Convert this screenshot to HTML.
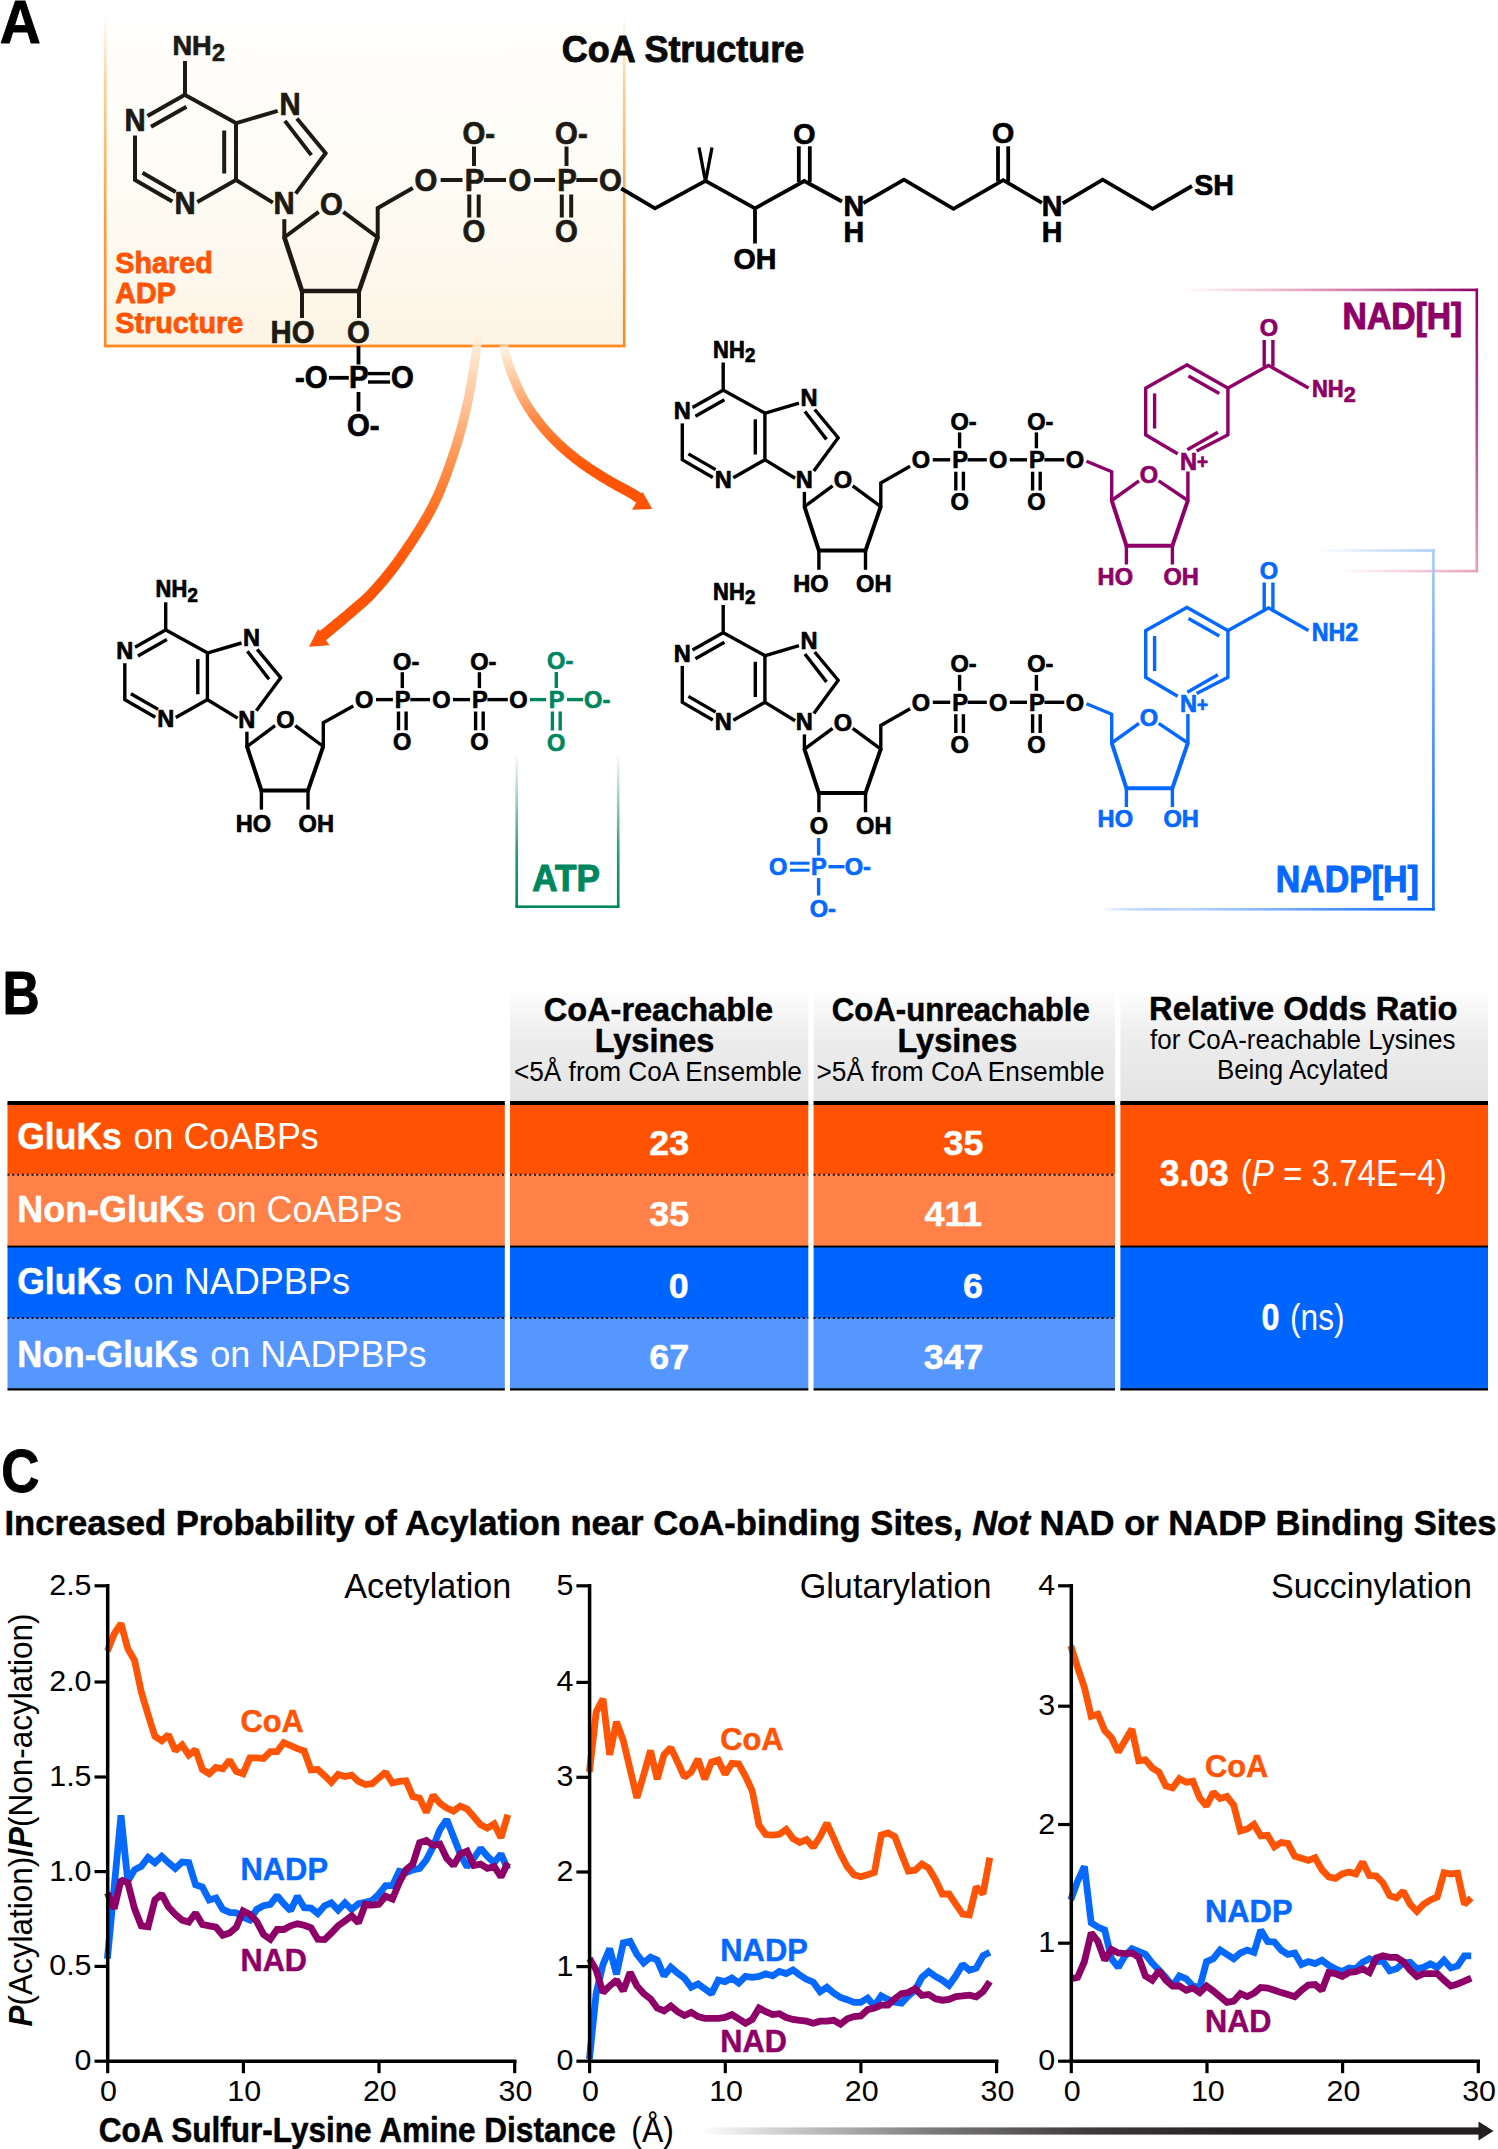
<!DOCTYPE html>
<html><head><meta charset="utf-8"><title>Figure</title>
<style>
html,body{margin:0;padding:0;background:#fff;}
body{width:1498px;height:2149px;overflow:hidden;}
svg{display:block;font-family:"Liberation Sans",sans-serif;}
</style></head><body>
<svg width="1498" height="2149" viewBox="0 0 1498 2149">
<defs>
<linearGradient id="gBoxFill" x1="0" y1="0" x2="0" y2="1">
<stop offset="0" stop-color="#fffefb" stop-opacity="0"/>
<stop offset="0.1" stop-color="#fffefb" stop-opacity="1"/>
<stop offset="0.45" stop-color="#fefcf6" stop-opacity="1"/>
<stop offset="0.8" stop-color="#fdf8ec" stop-opacity="1"/>
<stop offset="1" stop-color="#fcf4e4" stop-opacity="1"/></linearGradient>
<linearGradient id="gBoxEdge" x1="0" y1="0" x2="0" y2="1">
<stop offset="0" stop-color="#ffc070" stop-opacity="0"/>
<stop offset="0.22" stop-color="#ffb860" stop-opacity="0.7"/>
<stop offset="0.6" stop-color="#ffa040" stop-opacity="1"/>
<stop offset="1" stop-color="#ff8a22" stop-opacity="1"/></linearGradient>
<linearGradient id="gAtp" x1="0" y1="0" x2="0" y2="1">
<stop offset="0" stop-color="#00865E" stop-opacity="0"/>
<stop offset="0.65" stop-color="#00865E" stop-opacity="0.85"/>
<stop offset="1" stop-color="#00865E" stop-opacity="1"/></linearGradient>
<linearGradient id="gNadTop" x1="0" y1="0" x2="1" y2="0">
<stop offset="0" stop-color="#e79ab8" stop-opacity="0"/>
<stop offset="0.35" stop-color="#e48fb2" stop-opacity="0.7"/>
<stop offset="0.75" stop-color="#b84a8f" stop-opacity="1"/>
<stop offset="1" stop-color="#8E0067" stop-opacity="1"/></linearGradient>
<linearGradient id="gNadRight" x1="0" y1="0" x2="0" y2="1">
<stop offset="0" stop-color="#8E0067"/>
<stop offset="0.45" stop-color="#b5408a"/>
<stop offset="1" stop-color="#e9a0bc"/></linearGradient>
<linearGradient id="gNadBot" x1="0" y1="0" x2="1" y2="0">
<stop offset="0" stop-color="#e9a0bc" stop-opacity="0"/>
<stop offset="1" stop-color="#e9a0bc" stop-opacity="1"/></linearGradient>
<linearGradient id="gNpTop" x1="0" y1="0" x2="1" y2="0">
<stop offset="0" stop-color="#a9cdff" stop-opacity="0"/>
<stop offset="1" stop-color="#a9cdff" stop-opacity="1"/></linearGradient>
<linearGradient id="gNpRight" x1="0" y1="0" x2="0" y2="1">
<stop offset="0" stop-color="#a9cdff"/>
<stop offset="0.5" stop-color="#4d92ff"/>
<stop offset="1" stop-color="#0568FF"/></linearGradient>
<linearGradient id="gNpBot" x1="0" y1="0" x2="1" y2="0">
<stop offset="0" stop-color="#0568FF" stop-opacity="0"/>
<stop offset="0.25" stop-color="#a9cdff" stop-opacity="0.8"/>
<stop offset="0.7" stop-color="#4d92ff" stop-opacity="1"/>
<stop offset="1" stop-color="#0568FF" stop-opacity="1"/></linearGradient>
<linearGradient id="gArrL" gradientUnits="userSpaceOnUse" x1="0" y1="334" x2="0" y2="570">
<stop offset="0" stop-color="#fdf0dc" stop-opacity="0.6"/>
<stop offset="0.08" stop-color="#fee6cf"/>
<stop offset="0.30" stop-color="#ffc399"/>
<stop offset="0.52" stop-color="#ff9654"/>
<stop offset="0.75" stop-color="#ff6f22"/>
<stop offset="1" stop-color="#FF5405"/></linearGradient>
<linearGradient id="gArrR" gradientUnits="userSpaceOnUse" x1="0" y1="344" x2="0" y2="470">
<stop offset="0" stop-color="#fdf0dc" stop-opacity="0.6"/>
<stop offset="0.1" stop-color="#fee6cf"/>
<stop offset="0.35" stop-color="#ffba8a"/>
<stop offset="0.6" stop-color="#ff8843"/>
<stop offset="0.85" stop-color="#ff6414"/>
<stop offset="1" stop-color="#FF5405"/></linearGradient>
<linearGradient id="gHead" x1="0" y1="0" x2="0" y2="1">
<stop offset="0" stop-color="#e6e6e6" stop-opacity="0"/>
<stop offset="0.5" stop-color="#e9e9e9" stop-opacity="0.9"/>
<stop offset="1" stop-color="#e4e4e4" stop-opacity="1"/></linearGradient>
<linearGradient id="gBar" x1="0" y1="0" x2="1" y2="0">
<stop offset="0" stop-color="#231f20" stop-opacity="0"/>
<stop offset="0.12" stop-color="#231f20" stop-opacity="0.25"/>
<stop offset="0.3" stop-color="#231f20" stop-opacity="0.6"/>
<stop offset="0.5" stop-color="#231f20" stop-opacity="0.88"/>
<stop offset="0.7" stop-color="#231f20" stop-opacity="1"/>
<stop offset="1" stop-color="#231f20" stop-opacity="1"/></linearGradient>
</defs>
<rect x="0" y="0" width="1498" height="2149" fill="#fff"/>
<text x="-0.2" y="42.6" font-size="61.1" font-weight="bold" fill="#000" text-anchor="start" textLength="41" lengthAdjust="spacingAndGlyphs" stroke="#000" stroke-width="0.9" stroke-linejoin="round">A</text>
<rect x="105.2" y="14" width="519" height="332" fill="url(#gBoxFill)"/>
<rect x="103.9" y="14" width="2.6" height="332" fill="url(#gBoxEdge)"/>
<rect x="622.9" y="14" width="2.6" height="332" fill="url(#gBoxEdge)"/>
<rect x="103.9" y="344.6" width="521.6" height="2.8" fill="#ff8a22"/>
<text x="115.2" y="272.8" font-size="29.5" font-weight="bold" fill="#FF5405" text-anchor="start" textLength="97.6" lengthAdjust="spacingAndGlyphs" stroke="#FF5405" stroke-width="0.8" stroke-linejoin="round">Shared</text>
<text x="115.2" y="303.2" font-size="29.5" font-weight="bold" fill="#FF5405" text-anchor="start" textLength="60.6" lengthAdjust="spacingAndGlyphs" stroke="#FF5405" stroke-width="0.8" stroke-linejoin="round">ADP</text>
<text x="115.2" y="332.6" font-size="29.5" font-weight="bold" fill="#FF5405" text-anchor="start" textLength="128.1" lengthAdjust="spacingAndGlyphs" stroke="#FF5405" stroke-width="0.8" stroke-linejoin="round">Structure</text>
<text x="561.8" y="62" font-size="37.3" font-weight="bold" fill="#0a0a0a" text-anchor="start" textLength="242.5" lengthAdjust="spacingAndGlyphs" stroke="#0a0a0a" stroke-width="0.9" stroke-linejoin="round">CoA Structure</text>
<line x1="185" y1="95.5" x2="185" y2="61" stroke="#1d1a14" stroke-width="4" stroke-linecap="butt"/>
<line x1="185.8" y1="94.3" x2="147.5" y2="115.9" stroke="#1d1a14" stroke-width="4" stroke-linecap="butt"/>
<line x1="186.5" y1="106.7" x2="151" y2="126.7" stroke="#1d1a14" stroke-width="4" stroke-linecap="butt"/>
<line x1="135" y1="135.5" x2="135" y2="181" stroke="#1d1a14" stroke-width="4" stroke-linecap="butt"/>
<line x1="134.2" y1="179.5" x2="172.3" y2="201.6" stroke="#1d1a14" stroke-width="4" stroke-linecap="butt"/>
<line x1="142.5" y1="172.8" x2="175.7" y2="192" stroke="#1d1a14" stroke-width="4" stroke-linecap="butt"/>
<line x1="197.3" y1="201.9" x2="236.8" y2="179.5" stroke="#1d1a14" stroke-width="4" stroke-linecap="butt"/>
<line x1="236" y1="181" x2="236" y2="122" stroke="#1d1a14" stroke-width="4" stroke-linecap="butt"/>
<line x1="224.2" y1="173.5" x2="224.2" y2="130.5" stroke="#1d1a14" stroke-width="4" stroke-linecap="butt"/>
<line x1="236.8" y1="123.4" x2="184.2" y2="94.4" stroke="#1d1a14" stroke-width="4" stroke-linecap="butt"/>
<line x1="235.5" y1="123.3" x2="277.7" y2="110.8" stroke="#1d1a14" stroke-width="4" stroke-linecap="butt"/>
<line x1="296.9" y1="118.5" x2="326.3" y2="154" stroke="#1d1a14" stroke-width="4" stroke-linecap="butt"/>
<line x1="284.9" y1="120.9" x2="311.3" y2="155.1" stroke="#1d1a14" stroke-width="4" stroke-linecap="butt"/>
<line x1="326.3" y1="152.3" x2="295.7" y2="193.6" stroke="#1d1a14" stroke-width="4" stroke-linecap="butt"/>
<line x1="235.2" y1="179.5" x2="272.9" y2="202.6" stroke="#1d1a14" stroke-width="4" stroke-linecap="butt"/>
<line x1="284.3" y1="219.2" x2="284.3" y2="238.5" stroke="#1d1a14" stroke-width="4" stroke-linecap="butt"/>
<line x1="283.5" y1="238" x2="318.7" y2="211.8" stroke="#1d1a14" stroke-width="4" stroke-linecap="butt"/>
<line x1="343.3" y1="211.8" x2="378.5" y2="238" stroke="#1d1a14" stroke-width="4" stroke-linecap="butt"/>
<line x1="377.7" y1="239" x2="377.7" y2="207" stroke="#1d1a14" stroke-width="4" stroke-linecap="butt"/>
<line x1="377" y1="208.6" x2="412.8" y2="188" stroke="#1d1a14" stroke-width="4" stroke-linecap="butt"/>
<polyline points="284.3,237 302,291 359,291 377.7,237" fill="none" stroke="#1d1a14" stroke-width="4.7" stroke-linejoin="miter" stroke-linecap="butt"/>
<line x1="474" y1="146.5" x2="474" y2="166" stroke="#1d1a14" stroke-width="4" stroke-linecap="butt"/>
<line x1="469.3" y1="194.5" x2="469.3" y2="217.5" stroke="#1d1a14" stroke-width="4" stroke-linecap="butt"/>
<line x1="478.7" y1="194.5" x2="478.7" y2="217.5" stroke="#1d1a14" stroke-width="4" stroke-linecap="butt"/>
<line x1="566.5" y1="146.5" x2="566.5" y2="166" stroke="#1d1a14" stroke-width="4" stroke-linecap="butt"/>
<line x1="561.8" y1="194.5" x2="561.8" y2="217.5" stroke="#1d1a14" stroke-width="4" stroke-linecap="butt"/>
<line x1="571.2" y1="194.5" x2="571.2" y2="217.5" stroke="#1d1a14" stroke-width="4" stroke-linecap="butt"/>
<line x1="440.6" y1="180" x2="462.5" y2="180" stroke="#1d1a14" stroke-width="4" stroke-linecap="butt"/>
<line x1="483.8" y1="180" x2="506" y2="180" stroke="#1d1a14" stroke-width="4" stroke-linecap="butt"/>
<line x1="534" y1="180" x2="555" y2="180" stroke="#1d1a14" stroke-width="4" stroke-linecap="butt"/>
<line x1="576.3" y1="180" x2="597.5" y2="180" stroke="#1d1a14" stroke-width="4" stroke-linecap="butt"/>
<text x="172.4" y="55" font-size="27.2" font-weight="bold" fill="#1d1a14" text-anchor="start" transform="matrix(1 0 0 1.05 0 -2.75)" stroke="#1d1a14" stroke-width="0.7" stroke-linejoin="round">NH<tspan font-size="23.2" dy="5.3" dx="0.3">2</tspan></text>
<text x="135" y="130.6" font-size="29.3" font-weight="bold" fill="#1d1a14" text-anchor="middle" transform="matrix(1 0 0 1.05 0 -6.53)" stroke="#1d1a14" stroke-width="0.7" stroke-linejoin="round">N</text>
<text x="185" y="214.3" font-size="29.3" font-weight="bold" fill="#1d1a14" text-anchor="middle" transform="matrix(1 0 0 1.05 0 -10.715)" stroke="#1d1a14" stroke-width="0.7" stroke-linejoin="round">N</text>
<text x="290" y="114.6" font-size="29.3" font-weight="bold" fill="#1d1a14" text-anchor="middle" transform="matrix(1 0 0 1.05 0 -5.73)" stroke="#1d1a14" stroke-width="0.7" stroke-linejoin="round">N</text>
<text x="284" y="214.4" font-size="29.3" font-weight="bold" fill="#1d1a14" text-anchor="middle" transform="matrix(1 0 0 1.05 0 -10.72)" stroke="#1d1a14" stroke-width="0.7" stroke-linejoin="round">N</text>
<text x="331.5" y="214.8" font-size="29.3" font-weight="bold" fill="#1d1a14" text-anchor="middle" transform="matrix(1 0 0 1.05 0 -10.74)" stroke="#1d1a14" stroke-width="0.7" stroke-linejoin="round">O</text>
<text x="426" y="190.6" font-size="29.3" font-weight="bold" fill="#1d1a14" text-anchor="middle" transform="matrix(1 0 0 1.05 0 -9.53)" stroke="#1d1a14" stroke-width="0.7" stroke-linejoin="round">O</text>
<text x="474.5" y="190.6" font-size="29.3" font-weight="bold" fill="#1d1a14" text-anchor="middle" transform="matrix(1 0 0 1.05 0 -9.53)" stroke="#1d1a14" stroke-width="0.7" stroke-linejoin="round">P</text>
<text x="520" y="190.6" font-size="29.3" font-weight="bold" fill="#1d1a14" text-anchor="middle" transform="matrix(1 0 0 1.05 0 -9.53)" stroke="#1d1a14" stroke-width="0.7" stroke-linejoin="round">O</text>
<text x="567" y="190.6" font-size="29.3" font-weight="bold" fill="#1d1a14" text-anchor="middle" transform="matrix(1 0 0 1.05 0 -9.53)" stroke="#1d1a14" stroke-width="0.7" stroke-linejoin="round">P</text>
<text x="610.5" y="190.6" font-size="29.3" font-weight="bold" fill="#1d1a14" text-anchor="middle" transform="matrix(1 0 0 1.05 0 -9.53)" stroke="#1d1a14" stroke-width="0.7" stroke-linejoin="round">O</text>
<text x="462.6" y="143.6" font-size="29.3" font-weight="bold" fill="#1d1a14" text-anchor="start" transform="matrix(1 0 0 1.05 0 -7.18)" stroke="#1d1a14" stroke-width="0.7" stroke-linejoin="round">O-</text>
<text x="474" y="241.6" font-size="29.3" font-weight="bold" fill="#1d1a14" text-anchor="middle" transform="matrix(1 0 0 1.05 0 -12.08)" stroke="#1d1a14" stroke-width="0.7" stroke-linejoin="round">O</text>
<text x="555.1" y="143.6" font-size="29.3" font-weight="bold" fill="#1d1a14" text-anchor="start" transform="matrix(1 0 0 1.05 0 -7.18)" stroke="#1d1a14" stroke-width="0.7" stroke-linejoin="round">O-</text>
<text x="566.5" y="241.6" font-size="29.3" font-weight="bold" fill="#1d1a14" text-anchor="middle" transform="matrix(1 0 0 1.05 0 -12.08)" stroke="#1d1a14" stroke-width="0.7" stroke-linejoin="round">O</text>
<line x1="302" y1="291" x2="302" y2="318" stroke="#1d1a14" stroke-width="4" stroke-linecap="butt"/>
<line x1="359" y1="291" x2="359" y2="318" stroke="#1d1a14" stroke-width="4" stroke-linecap="butt"/>
<text x="314.5" y="342.6" font-size="29.3" font-weight="bold" fill="#1d1a14" text-anchor="end" transform="matrix(1 0 0 1.05 0 -17.13)" stroke="#1d1a14" stroke-width="0.7" stroke-linejoin="round">HO</text>
<text x="358.5" y="342.6" font-size="29.3" font-weight="bold" fill="#1d1a14" text-anchor="middle" transform="matrix(1 0 0 1.05 0 -17.13)" stroke="#1d1a14" stroke-width="0.7" stroke-linejoin="round">O</text>
<line x1="358.5" y1="346" x2="358.5" y2="364.5" stroke="#000" stroke-width="3.8" stroke-linecap="butt"/>
<line x1="358.5" y1="392" x2="358.5" y2="411.5" stroke="#000" stroke-width="3.8" stroke-linecap="butt"/>
<line x1="329" y1="377.8" x2="348.8" y2="377.8" stroke="#000" stroke-width="3.8" stroke-linecap="butt"/>
<line x1="368" y1="373.6" x2="390" y2="373.6" stroke="#000" stroke-width="3.4" stroke-linecap="butt"/>
<line x1="368" y1="382" x2="390" y2="382" stroke="#000" stroke-width="3.4" stroke-linecap="butt"/>
<text x="327.6" y="388.3" font-size="29.3" font-weight="bold" fill="#000" text-anchor="end" transform="matrix(1 0 0 1.05 0 -19.415)" stroke="#000" stroke-width="0.7" stroke-linejoin="round">-O</text>
<text x="358.7" y="388.3" font-size="29.3" font-weight="bold" fill="#000" text-anchor="middle" transform="matrix(1 0 0 1.05 0 -19.415)" stroke="#000" stroke-width="0.7" stroke-linejoin="round">P</text>
<text x="402.3" y="388.3" font-size="29.3" font-weight="bold" fill="#000" text-anchor="middle" transform="matrix(1 0 0 1.05 0 -19.415)" stroke="#000" stroke-width="0.7" stroke-linejoin="round">O</text>
<text x="347.1" y="436.2" font-size="29.3" font-weight="bold" fill="#000" text-anchor="start" transform="matrix(1 0 0 1.05 0 -21.81)" stroke="#000" stroke-width="0.7" stroke-linejoin="round">O-</text>
<polyline points="621.2,188.5 655,208.3 705.5,180.8 755,208.3 804.3,181 842,201.5" fill="none" stroke="#000" stroke-width="3.8" stroke-linejoin="miter" stroke-linecap="butt"/>
<line x1="705.5" y1="181.5" x2="699" y2="147.5" stroke="#000" stroke-width="3.3" stroke-linecap="butt"/>
<line x1="705.5" y1="181.5" x2="712" y2="147.5" stroke="#000" stroke-width="3.3" stroke-linecap="butt"/>
<line x1="755" y1="207" x2="755" y2="243.5" stroke="#000" stroke-width="3.8" stroke-linecap="butt"/>
<line x1="798.8" y1="146.3" x2="798.8" y2="182" stroke="#000" stroke-width="3.8" stroke-linecap="butt"/>
<line x1="809.8" y1="146.3" x2="809.8" y2="182" stroke="#000" stroke-width="3.8" stroke-linecap="butt"/>
<polyline points="863.3,203.2 904,179.7 953.5,208.8 1003.2,180.2 1042,202.8" fill="none" stroke="#000" stroke-width="3.8" stroke-linejoin="miter" stroke-linecap="butt"/>
<line x1="998" y1="146.3" x2="998" y2="181.5" stroke="#000" stroke-width="3.8" stroke-linecap="butt"/>
<line x1="1008.2" y1="146.3" x2="1008.2" y2="181.5" stroke="#000" stroke-width="3.8" stroke-linecap="butt"/>
<polyline points="1062.7,203.4 1102.7,179.7 1152.6,208.8 1192,186" fill="none" stroke="#000" stroke-width="3.8" stroke-linejoin="miter" stroke-linecap="butt"/>
<text x="804.3" y="143.7" font-size="28.6" font-weight="bold" fill="#000" text-anchor="middle" transform="matrix(1 0 0 1.05 0 -7.183)" stroke="#000" stroke-width="0.7" stroke-linejoin="round">O</text>
<text x="1003.2" y="143.4" font-size="28.6" font-weight="bold" fill="#000" text-anchor="middle" transform="matrix(1 0 0 1.05 0 -7.168)" stroke="#000" stroke-width="0.7" stroke-linejoin="round">O</text>
<text x="755" y="269.1" font-size="28.6" font-weight="bold" fill="#000" text-anchor="middle" transform="matrix(1 0 0 1.05 0 -13.453)" stroke="#000" stroke-width="0.7" stroke-linejoin="round">OH</text>
<text x="853.8" y="216.2" font-size="28.6" font-weight="bold" fill="#000" text-anchor="middle" transform="matrix(1 0 0 1.05 0 -10.808)" stroke="#000" stroke-width="0.7" stroke-linejoin="round">N</text>
<text x="853.8" y="241.6" font-size="28.6" font-weight="bold" fill="#000" text-anchor="middle" transform="matrix(1 0 0 1.05 0 -12.078)" stroke="#000" stroke-width="0.7" stroke-linejoin="round">H</text>
<text x="1052.2" y="216.2" font-size="28.6" font-weight="bold" fill="#000" text-anchor="middle" transform="matrix(1 0 0 1.05 0 -10.808)" stroke="#000" stroke-width="0.7" stroke-linejoin="round">N</text>
<text x="1052.2" y="241.6" font-size="28.6" font-weight="bold" fill="#000" text-anchor="middle" transform="matrix(1 0 0 1.05 0 -12.078)" stroke="#000" stroke-width="0.7" stroke-linejoin="round">H</text>
<text x="1194.3" y="194.9" font-size="28.6" font-weight="bold" fill="#000" text-anchor="start" transform="matrix(1 0 0 1.05 0 -9.743)" stroke="#000" stroke-width="0.7" stroke-linejoin="round">SH</text>
<line x1="723.2" y1="390.7" x2="723.2" y2="362.5" stroke="#000" stroke-width="3.4" stroke-linecap="butt"/>
<line x1="723.9" y1="389.7" x2="692.5" y2="407.4" stroke="#000" stroke-width="3.4" stroke-linecap="butt"/>
<line x1="724.4" y1="399.8" x2="695.4" y2="416.2" stroke="#000" stroke-width="3.4" stroke-linecap="butt"/>
<line x1="682.3" y1="423.4" x2="682.3" y2="460.6" stroke="#000" stroke-width="3.4" stroke-linecap="butt"/>
<line x1="681.6" y1="459.4" x2="712.8" y2="477.5" stroke="#000" stroke-width="3.4" stroke-linecap="butt"/>
<line x1="688.4" y1="453.9" x2="715.6" y2="469.6" stroke="#000" stroke-width="3.4" stroke-linecap="butt"/>
<line x1="733.3" y1="477.7" x2="765.6" y2="459.4" stroke="#000" stroke-width="3.4" stroke-linecap="butt"/>
<line x1="764.9" y1="460.6" x2="764.9" y2="412.4" stroke="#000" stroke-width="3.4" stroke-linecap="butt"/>
<line x1="755.3" y1="454.5" x2="755.3" y2="419.3" stroke="#000" stroke-width="3.4" stroke-linecap="butt"/>
<line x1="765.6" y1="413.5" x2="722.5" y2="389.8" stroke="#000" stroke-width="3.4" stroke-linecap="butt"/>
<line x1="764.5" y1="413.4" x2="799" y2="403.2" stroke="#000" stroke-width="3.4" stroke-linecap="butt"/>
<line x1="814.7" y1="409.5" x2="838.8" y2="438.5" stroke="#000" stroke-width="3.4" stroke-linecap="butt"/>
<line x1="804.9" y1="411.5" x2="826.5" y2="439.4" stroke="#000" stroke-width="3.4" stroke-linecap="butt"/>
<line x1="838.8" y1="437.1" x2="813.8" y2="470.9" stroke="#000" stroke-width="3.4" stroke-linecap="butt"/>
<line x1="764.3" y1="459.4" x2="795.1" y2="478.3" stroke="#000" stroke-width="3.4" stroke-linecap="butt"/>
<line x1="804.4" y1="491.9" x2="804.4" y2="507.7" stroke="#000" stroke-width="3.4" stroke-linecap="butt"/>
<line x1="803.8" y1="507.2" x2="832.6" y2="485.8" stroke="#000" stroke-width="3.4" stroke-linecap="butt"/>
<line x1="852.7" y1="485.8" x2="881.5" y2="507.2" stroke="#000" stroke-width="3.4" stroke-linecap="butt"/>
<line x1="880.8" y1="508.1" x2="880.8" y2="481.9" stroke="#000" stroke-width="3.4" stroke-linecap="butt"/>
<line x1="880.3" y1="483.2" x2="910.1" y2="466.3" stroke="#000" stroke-width="3.4" stroke-linecap="butt"/>
<polyline points="804.4,506.4 818.9,550.6 865.5,550.6 880.8,506.4" fill="none" stroke="#000" stroke-width="4" stroke-linejoin="miter" stroke-linecap="butt"/>
<line x1="959.6" y1="432.4" x2="959.6" y2="448.3" stroke="#000" stroke-width="3.4" stroke-linecap="butt"/>
<line x1="955.8" y1="471.7" x2="955.8" y2="490.5" stroke="#000" stroke-width="3.4" stroke-linecap="butt"/>
<line x1="963.4" y1="471.7" x2="963.4" y2="490.5" stroke="#000" stroke-width="3.4" stroke-linecap="butt"/>
<line x1="1036.4" y1="432.4" x2="1036.4" y2="448.3" stroke="#000" stroke-width="3.4" stroke-linecap="butt"/>
<line x1="1032.6" y1="471.7" x2="1032.6" y2="490.5" stroke="#000" stroke-width="3.4" stroke-linecap="butt"/>
<line x1="1040.2" y1="471.7" x2="1040.2" y2="490.5" stroke="#000" stroke-width="3.4" stroke-linecap="butt"/>
<line x1="932.8" y1="459.8" x2="950.2" y2="459.8" stroke="#000" stroke-width="3.4" stroke-linecap="butt"/>
<line x1="967.6" y1="459.8" x2="986.8" y2="459.8" stroke="#000" stroke-width="3.4" stroke-linecap="butt"/>
<line x1="1009.8" y1="459.8" x2="1027" y2="459.8" stroke="#000" stroke-width="3.4" stroke-linecap="butt"/>
<line x1="1044.4" y1="459.8" x2="1064.3" y2="459.8" stroke="#000" stroke-width="3.4" stroke-linecap="butt"/>
<text x="713.1" y="357.6" font-size="21.9" font-weight="bold" fill="#000" text-anchor="start" transform="matrix(1 0 0 1.05 0 -17.878)" stroke="#000" stroke-width="0.7" stroke-linejoin="round">NH<tspan font-size="18.7" dy="4.3" dx="0.2">2</tspan></text>
<text x="682.3" y="419.3" font-size="23.6" font-weight="bold" fill="#000" text-anchor="middle" transform="matrix(1 0 0 1.05 0 -20.963)" stroke="#000" stroke-width="0.7" stroke-linejoin="round">N</text>
<text x="723.2" y="487.7" font-size="23.6" font-weight="bold" fill="#000" text-anchor="middle" transform="matrix(1 0 0 1.05 0 -24.386)" stroke="#000" stroke-width="0.7" stroke-linejoin="round">N</text>
<text x="809.1" y="406.2" font-size="23.6" font-weight="bold" fill="#000" text-anchor="middle" transform="matrix(1 0 0 1.05 0 -20.309)" stroke="#000" stroke-width="0.7" stroke-linejoin="round">N</text>
<text x="804.2" y="487.8" font-size="23.6" font-weight="bold" fill="#000" text-anchor="middle" transform="matrix(1 0 0 1.05 0 -24.391)" stroke="#000" stroke-width="0.7" stroke-linejoin="round">N</text>
<text x="843" y="488.1" font-size="23.6" font-weight="bold" fill="#000" text-anchor="middle" transform="matrix(1 0 0 1.05 0 -24.407)" stroke="#000" stroke-width="0.7" stroke-linejoin="round">O</text>
<text x="920.9" y="468.3" font-size="23.6" font-weight="bold" fill="#000" text-anchor="middle" transform="matrix(1 0 0 1.05 0 -23.417)" stroke="#000" stroke-width="0.7" stroke-linejoin="round">O</text>
<text x="960" y="468.3" font-size="23.6" font-weight="bold" fill="#000" text-anchor="middle" transform="matrix(1 0 0 1.05 0 -23.417)" stroke="#000" stroke-width="0.7" stroke-linejoin="round">P</text>
<text x="998.3" y="468.3" font-size="23.6" font-weight="bold" fill="#000" text-anchor="middle" transform="matrix(1 0 0 1.05 0 -23.417)" stroke="#000" stroke-width="0.7" stroke-linejoin="round">O</text>
<text x="1036.8" y="468.3" font-size="23.6" font-weight="bold" fill="#000" text-anchor="middle" transform="matrix(1 0 0 1.05 0 -23.417)" stroke="#000" stroke-width="0.7" stroke-linejoin="round">P</text>
<text x="1074.9" y="468.3" font-size="23.6" font-weight="bold" fill="#000" text-anchor="middle" transform="matrix(1 0 0 1.05 0 -23.417)" stroke="#000" stroke-width="0.7" stroke-linejoin="round">O</text>
<text x="950.4" y="429.9" font-size="23.6" font-weight="bold" fill="#000" text-anchor="start" transform="matrix(1 0 0 1.05 0 -21.495)" stroke="#000" stroke-width="0.7" stroke-linejoin="round">O-</text>
<text x="959.6" y="510.1" font-size="23.6" font-weight="bold" fill="#000" text-anchor="middle" transform="matrix(1 0 0 1.05 0 -25.503)" stroke="#000" stroke-width="0.7" stroke-linejoin="round">O</text>
<text x="1027.2" y="429.9" font-size="23.6" font-weight="bold" fill="#000" text-anchor="start" transform="matrix(1 0 0 1.05 0 -21.495)" stroke="#000" stroke-width="0.7" stroke-linejoin="round">O-</text>
<text x="1036.4" y="510.1" font-size="23.6" font-weight="bold" fill="#000" text-anchor="middle" transform="matrix(1 0 0 1.05 0 -25.503)" stroke="#000" stroke-width="0.7" stroke-linejoin="round">O</text>
<line x1="818.9" y1="550.6" x2="818.9" y2="569.8" stroke="#000" stroke-width="3.4" stroke-linecap="butt"/>
<line x1="865.5" y1="550.6" x2="865.5" y2="569.8" stroke="#000" stroke-width="3.4" stroke-linecap="butt"/>
<text x="828.7" y="591.9" font-size="23.6" font-weight="bold" fill="#000" text-anchor="end" transform="matrix(1 0 0 1.05 0 -29.593)" stroke="#000" stroke-width="0.7" stroke-linejoin="round">HO</text>
<text x="856.1" y="591.9" font-size="23.6" font-weight="bold" fill="#000" text-anchor="start" transform="matrix(1 0 0 1.05 0 -29.593)" stroke="#000" stroke-width="0.7" stroke-linejoin="round">OH</text>
<line x1="1086.5" y1="461.3" x2="1112.4" y2="472" stroke="#8E0067" stroke-width="3.4" stroke-linecap="butt"/>
<line x1="1111.7" y1="471" x2="1111.7" y2="501.5" stroke="#8E0067" stroke-width="3.4" stroke-linecap="butt"/>
<line x1="1111" y1="501" x2="1139" y2="480.8" stroke="#8E0067" stroke-width="3.4" stroke-linecap="butt"/>
<line x1="1158.7" y1="480.8" x2="1188.6" y2="501" stroke="#8E0067" stroke-width="3.4" stroke-linecap="butt"/>
<line x1="1187.9" y1="501.5" x2="1187.9" y2="471.5" stroke="#8E0067" stroke-width="3.4" stroke-linecap="butt"/>
<polyline points="1111.7,500.3 1126.4,545.7 1172.4,545.7 1187.9,500.3" fill="none" stroke="#8E0067" stroke-width="4" stroke-linejoin="miter" stroke-linecap="butt"/>
<line x1="1126.4" y1="545.7" x2="1126.4" y2="564.5" stroke="#8E0067" stroke-width="3.4" stroke-linecap="butt"/>
<line x1="1172.4" y1="545.7" x2="1172.4" y2="564.5" stroke="#8E0067" stroke-width="3.4" stroke-linecap="butt"/>
<line x1="1177.7" y1="453.8" x2="1145" y2="434.5" stroke="#8E0067" stroke-width="3.4" stroke-linecap="butt"/>
<line x1="1145.7" y1="435.7" x2="1145.7" y2="387.3" stroke="#8E0067" stroke-width="3.4" stroke-linecap="butt"/>
<line x1="1154.6" y1="428.5" x2="1154.6" y2="393.5" stroke="#8E0067" stroke-width="3.4" stroke-linecap="butt"/>
<line x1="1145" y1="388.5" x2="1187.7" y2="364.5" stroke="#8E0067" stroke-width="3.4" stroke-linecap="butt"/>
<line x1="1186.3" y1="364.5" x2="1228.6" y2="388.5" stroke="#8E0067" stroke-width="3.4" stroke-linecap="butt"/>
<line x1="1188.5" y1="376" x2="1219.3" y2="393.6" stroke="#8E0067" stroke-width="3.4" stroke-linecap="butt"/>
<line x1="1227.9" y1="387.3" x2="1227.9" y2="435.7" stroke="#8E0067" stroke-width="3.4" stroke-linecap="butt"/>
<line x1="1228.6" y1="434.5" x2="1196.6" y2="451" stroke="#8E0067" stroke-width="3.4" stroke-linecap="butt"/>
<line x1="1217.9" y1="432.2" x2="1187.3" y2="449.7" stroke="#8E0067" stroke-width="3.4" stroke-linecap="butt"/>
<line x1="1227.2" y1="388.5" x2="1269.2" y2="365" stroke="#8E0067" stroke-width="3.4" stroke-linecap="butt"/>
<line x1="1264.2" y1="340" x2="1264.2" y2="366.5" stroke="#8E0067" stroke-width="3.4" stroke-linecap="butt"/>
<line x1="1272.9" y1="340" x2="1272.9" y2="366.5" stroke="#8E0067" stroke-width="3.4" stroke-linecap="butt"/>
<line x1="1267.8" y1="365" x2="1308.5" y2="388" stroke="#8E0067" stroke-width="3.4" stroke-linecap="butt"/>
<text x="1148.9" y="483.5" font-size="23.6" font-weight="bold" fill="#8E0067" text-anchor="middle" transform="matrix(1 0 0 1.05 0 -24.177)" stroke="#8E0067" stroke-width="0.7" stroke-linejoin="round">O</text>
<text x="1179.9" y="469.7" font-size="23.6" font-weight="bold" fill="#8E0067" text-anchor="start" transform="matrix(1 0 0 1.05 0 -23.487)" stroke="#8E0067" stroke-width="0.7" stroke-linejoin="round">N<tspan font-size="18.9" dy="-0.5">+</tspan></text>
<text x="1269" y="336.5" font-size="23.6" font-weight="bold" fill="#8E0067" text-anchor="middle" transform="matrix(1 0 0 1.05 0 -16.827)" stroke="#8E0067" stroke-width="0.7" stroke-linejoin="round">O</text>
<text x="1311.9" y="397" font-size="21.9" font-weight="bold" fill="#8E0067" text-anchor="start" transform="matrix(1 0 0 1.05 0 -19.85)" stroke="#8E0067" stroke-width="0.7" stroke-linejoin="round">NH<tspan font-size="21.5" dy="5" dx="0.2">2</tspan></text>
<text x="1133" y="584.9" font-size="23.6" font-weight="bold" fill="#8E0067" text-anchor="end" transform="matrix(1 0 0 1.05 0 -29.247)" stroke="#8E0067" stroke-width="0.7" stroke-linejoin="round">HO</text>
<text x="1163.5" y="584.9" font-size="23.6" font-weight="bold" fill="#8E0067" text-anchor="start" transform="matrix(1 0 0 1.05 0 -29.247)" stroke="#8E0067" stroke-width="0.7" stroke-linejoin="round">OH</text>
<line x1="723.2" y1="633.2" x2="723.2" y2="605" stroke="#000" stroke-width="3.4" stroke-linecap="butt"/>
<line x1="723.9" y1="632.2" x2="692.5" y2="649.9" stroke="#000" stroke-width="3.4" stroke-linecap="butt"/>
<line x1="724.4" y1="642.3" x2="695.4" y2="658.7" stroke="#000" stroke-width="3.4" stroke-linecap="butt"/>
<line x1="682.3" y1="665.9" x2="682.3" y2="703.1" stroke="#000" stroke-width="3.4" stroke-linecap="butt"/>
<line x1="681.6" y1="701.9" x2="712.8" y2="720" stroke="#000" stroke-width="3.4" stroke-linecap="butt"/>
<line x1="688.4" y1="696.4" x2="715.6" y2="712.1" stroke="#000" stroke-width="3.4" stroke-linecap="butt"/>
<line x1="733.3" y1="720.2" x2="765.6" y2="701.9" stroke="#000" stroke-width="3.4" stroke-linecap="butt"/>
<line x1="764.9" y1="703.1" x2="764.9" y2="654.9" stroke="#000" stroke-width="3.4" stroke-linecap="butt"/>
<line x1="755.3" y1="697" x2="755.3" y2="661.8" stroke="#000" stroke-width="3.4" stroke-linecap="butt"/>
<line x1="765.6" y1="656" x2="722.5" y2="632.3" stroke="#000" stroke-width="3.4" stroke-linecap="butt"/>
<line x1="764.5" y1="655.9" x2="799" y2="645.7" stroke="#000" stroke-width="3.4" stroke-linecap="butt"/>
<line x1="814.7" y1="652" x2="838.8" y2="681" stroke="#000" stroke-width="3.4" stroke-linecap="butt"/>
<line x1="804.9" y1="654" x2="826.5" y2="681.9" stroke="#000" stroke-width="3.4" stroke-linecap="butt"/>
<line x1="838.8" y1="679.6" x2="813.8" y2="713.4" stroke="#000" stroke-width="3.4" stroke-linecap="butt"/>
<line x1="764.3" y1="701.9" x2="795.1" y2="720.8" stroke="#000" stroke-width="3.4" stroke-linecap="butt"/>
<line x1="804.4" y1="734.4" x2="804.4" y2="750.2" stroke="#000" stroke-width="3.4" stroke-linecap="butt"/>
<line x1="803.8" y1="749.7" x2="832.6" y2="728.3" stroke="#000" stroke-width="3.4" stroke-linecap="butt"/>
<line x1="852.7" y1="728.3" x2="881.5" y2="749.7" stroke="#000" stroke-width="3.4" stroke-linecap="butt"/>
<line x1="880.8" y1="750.6" x2="880.8" y2="724.4" stroke="#000" stroke-width="3.4" stroke-linecap="butt"/>
<line x1="880.3" y1="725.7" x2="910.1" y2="708.8" stroke="#000" stroke-width="3.4" stroke-linecap="butt"/>
<polyline points="804.4,748.9 818.9,793.1 865.5,793.1 880.8,748.9" fill="none" stroke="#000" stroke-width="4" stroke-linejoin="miter" stroke-linecap="butt"/>
<line x1="959.6" y1="674.9" x2="959.6" y2="690.8" stroke="#000" stroke-width="3.4" stroke-linecap="butt"/>
<line x1="955.8" y1="714.2" x2="955.8" y2="733" stroke="#000" stroke-width="3.4" stroke-linecap="butt"/>
<line x1="963.4" y1="714.2" x2="963.4" y2="733" stroke="#000" stroke-width="3.4" stroke-linecap="butt"/>
<line x1="1036.4" y1="674.9" x2="1036.4" y2="690.8" stroke="#000" stroke-width="3.4" stroke-linecap="butt"/>
<line x1="1032.6" y1="714.2" x2="1032.6" y2="733" stroke="#000" stroke-width="3.4" stroke-linecap="butt"/>
<line x1="1040.2" y1="714.2" x2="1040.2" y2="733" stroke="#000" stroke-width="3.4" stroke-linecap="butt"/>
<line x1="932.8" y1="702.3" x2="950.2" y2="702.3" stroke="#000" stroke-width="3.4" stroke-linecap="butt"/>
<line x1="967.6" y1="702.3" x2="986.8" y2="702.3" stroke="#000" stroke-width="3.4" stroke-linecap="butt"/>
<line x1="1009.8" y1="702.3" x2="1027" y2="702.3" stroke="#000" stroke-width="3.4" stroke-linecap="butt"/>
<line x1="1044.4" y1="702.3" x2="1064.3" y2="702.3" stroke="#000" stroke-width="3.4" stroke-linecap="butt"/>
<text x="713.1" y="600" font-size="21.9" font-weight="bold" fill="#000" text-anchor="start" transform="matrix(1 0 0 1.05 0 -30.003)" stroke="#000" stroke-width="0.7" stroke-linejoin="round">NH<tspan font-size="18.7" dy="4.3" dx="0.2">2</tspan></text>
<text x="682.3" y="661.8" font-size="23.6" font-weight="bold" fill="#000" text-anchor="middle" transform="matrix(1 0 0 1.05 0 -33.088)" stroke="#000" stroke-width="0.7" stroke-linejoin="round">N</text>
<text x="723.2" y="730.2" font-size="23.6" font-weight="bold" fill="#000" text-anchor="middle" transform="matrix(1 0 0 1.05 0 -36.511)" stroke="#000" stroke-width="0.7" stroke-linejoin="round">N</text>
<text x="809.1" y="648.7" font-size="23.6" font-weight="bold" fill="#000" text-anchor="middle" transform="matrix(1 0 0 1.05 0 -32.434)" stroke="#000" stroke-width="0.7" stroke-linejoin="round">N</text>
<text x="804.2" y="730.3" font-size="23.6" font-weight="bold" fill="#000" text-anchor="middle" transform="matrix(1 0 0 1.05 0 -36.516)" stroke="#000" stroke-width="0.7" stroke-linejoin="round">N</text>
<text x="843" y="730.6" font-size="23.6" font-weight="bold" fill="#000" text-anchor="middle" transform="matrix(1 0 0 1.05 0 -36.532)" stroke="#000" stroke-width="0.7" stroke-linejoin="round">O</text>
<text x="920.9" y="710.8" font-size="23.6" font-weight="bold" fill="#000" text-anchor="middle" transform="matrix(1 0 0 1.05 0 -35.542)" stroke="#000" stroke-width="0.7" stroke-linejoin="round">O</text>
<text x="960" y="710.8" font-size="23.6" font-weight="bold" fill="#000" text-anchor="middle" transform="matrix(1 0 0 1.05 0 -35.542)" stroke="#000" stroke-width="0.7" stroke-linejoin="round">P</text>
<text x="998.3" y="710.8" font-size="23.6" font-weight="bold" fill="#000" text-anchor="middle" transform="matrix(1 0 0 1.05 0 -35.542)" stroke="#000" stroke-width="0.7" stroke-linejoin="round">O</text>
<text x="1036.8" y="710.8" font-size="23.6" font-weight="bold" fill="#000" text-anchor="middle" transform="matrix(1 0 0 1.05 0 -35.542)" stroke="#000" stroke-width="0.7" stroke-linejoin="round">P</text>
<text x="1074.9" y="710.8" font-size="23.6" font-weight="bold" fill="#000" text-anchor="middle" transform="matrix(1 0 0 1.05 0 -35.542)" stroke="#000" stroke-width="0.7" stroke-linejoin="round">O</text>
<text x="950.4" y="672.4" font-size="23.6" font-weight="bold" fill="#000" text-anchor="start" transform="matrix(1 0 0 1.05 0 -33.62)" stroke="#000" stroke-width="0.7" stroke-linejoin="round">O-</text>
<text x="959.6" y="752.6" font-size="23.6" font-weight="bold" fill="#000" text-anchor="middle" transform="matrix(1 0 0 1.05 0 -37.628)" stroke="#000" stroke-width="0.7" stroke-linejoin="round">O</text>
<text x="1027.2" y="672.4" font-size="23.6" font-weight="bold" fill="#000" text-anchor="start" transform="matrix(1 0 0 1.05 0 -33.62)" stroke="#000" stroke-width="0.7" stroke-linejoin="round">O-</text>
<text x="1036.4" y="752.6" font-size="23.6" font-weight="bold" fill="#000" text-anchor="middle" transform="matrix(1 0 0 1.05 0 -37.628)" stroke="#000" stroke-width="0.7" stroke-linejoin="round">O</text>
<line x1="818.9" y1="793.1" x2="818.9" y2="812.3" stroke="#000" stroke-width="3.4" stroke-linecap="butt"/>
<line x1="865.5" y1="793.1" x2="865.5" y2="812.3" stroke="#000" stroke-width="3.4" stroke-linecap="butt"/>
<text x="818.9" y="834.4" font-size="23.6" font-weight="bold" fill="#000" text-anchor="middle" transform="matrix(1 0 0 1.05 0 -41.718)" stroke="#000" stroke-width="0.7" stroke-linejoin="round">O</text>
<text x="856.1" y="834.4" font-size="23.6" font-weight="bold" fill="#000" text-anchor="start" transform="matrix(1 0 0 1.05 0 -41.718)" stroke="#000" stroke-width="0.7" stroke-linejoin="round">OH</text>
<line x1="1086.5" y1="703.8" x2="1112.4" y2="714.5" stroke="#0568FF" stroke-width="3.4" stroke-linecap="butt"/>
<line x1="1111.7" y1="713.5" x2="1111.7" y2="744" stroke="#0568FF" stroke-width="3.4" stroke-linecap="butt"/>
<line x1="1111" y1="743.5" x2="1139" y2="723.3" stroke="#0568FF" stroke-width="3.4" stroke-linecap="butt"/>
<line x1="1158.7" y1="723.3" x2="1188.6" y2="743.5" stroke="#0568FF" stroke-width="3.4" stroke-linecap="butt"/>
<line x1="1187.9" y1="744" x2="1187.9" y2="714" stroke="#0568FF" stroke-width="3.4" stroke-linecap="butt"/>
<polyline points="1111.7,742.8 1126.4,788.2 1172.4,788.2 1187.9,742.8" fill="none" stroke="#0568FF" stroke-width="4" stroke-linejoin="miter" stroke-linecap="butt"/>
<line x1="1126.4" y1="788.2" x2="1126.4" y2="807" stroke="#0568FF" stroke-width="3.4" stroke-linecap="butt"/>
<line x1="1172.4" y1="788.2" x2="1172.4" y2="807" stroke="#0568FF" stroke-width="3.4" stroke-linecap="butt"/>
<line x1="1177.7" y1="696.3" x2="1145" y2="677" stroke="#0568FF" stroke-width="3.4" stroke-linecap="butt"/>
<line x1="1145.7" y1="678.2" x2="1145.7" y2="629.8" stroke="#0568FF" stroke-width="3.4" stroke-linecap="butt"/>
<line x1="1154.6" y1="671" x2="1154.6" y2="636" stroke="#0568FF" stroke-width="3.4" stroke-linecap="butt"/>
<line x1="1145" y1="631" x2="1187.7" y2="607" stroke="#0568FF" stroke-width="3.4" stroke-linecap="butt"/>
<line x1="1186.3" y1="607" x2="1228.6" y2="631" stroke="#0568FF" stroke-width="3.4" stroke-linecap="butt"/>
<line x1="1188.5" y1="618.5" x2="1219.3" y2="636.1" stroke="#0568FF" stroke-width="3.4" stroke-linecap="butt"/>
<line x1="1227.9" y1="629.8" x2="1227.9" y2="678.2" stroke="#0568FF" stroke-width="3.4" stroke-linecap="butt"/>
<line x1="1228.6" y1="677" x2="1196.6" y2="693.5" stroke="#0568FF" stroke-width="3.4" stroke-linecap="butt"/>
<line x1="1217.9" y1="674.7" x2="1187.3" y2="692.2" stroke="#0568FF" stroke-width="3.4" stroke-linecap="butt"/>
<line x1="1227.2" y1="631" x2="1269.2" y2="607.5" stroke="#0568FF" stroke-width="3.4" stroke-linecap="butt"/>
<line x1="1264.2" y1="582.5" x2="1264.2" y2="609" stroke="#0568FF" stroke-width="3.4" stroke-linecap="butt"/>
<line x1="1272.9" y1="582.5" x2="1272.9" y2="609" stroke="#0568FF" stroke-width="3.4" stroke-linecap="butt"/>
<line x1="1267.8" y1="607.5" x2="1308.5" y2="630.5" stroke="#0568FF" stroke-width="3.4" stroke-linecap="butt"/>
<text x="1148.9" y="726" font-size="23.6" font-weight="bold" fill="#0568FF" text-anchor="middle" transform="matrix(1 0 0 1.05 0 -36.302)" stroke="#0568FF" stroke-width="0.7" stroke-linejoin="round">O</text>
<text x="1179.9" y="712.2" font-size="23.6" font-weight="bold" fill="#0568FF" text-anchor="start" transform="matrix(1 0 0 1.05 0 -35.612)" stroke="#0568FF" stroke-width="0.7" stroke-linejoin="round">N<tspan font-size="18.9" dy="-0.5">+</tspan></text>
<text x="1269" y="579" font-size="23.6" font-weight="bold" fill="#0568FF" text-anchor="middle" transform="matrix(1 0 0 1.05 0 -28.952)" stroke="#0568FF" stroke-width="0.7" stroke-linejoin="round">O</text>
<text x="1311.8" y="641" font-size="24.4" font-weight="bold" fill="#0568FF" text-anchor="start" textLength="46.5" lengthAdjust="spacingAndGlyphs" transform="matrix(1 0 0 1.05 0 -32.05)" stroke="#0568FF" stroke-width="0.7" stroke-linejoin="round">NH2</text>
<text x="1133" y="827.4" font-size="23.6" font-weight="bold" fill="#0568FF" text-anchor="end" transform="matrix(1 0 0 1.05 0 -41.372)" stroke="#0568FF" stroke-width="0.7" stroke-linejoin="round">HO</text>
<text x="1163.5" y="827.4" font-size="23.6" font-weight="bold" fill="#0568FF" text-anchor="start" transform="matrix(1 0 0 1.05 0 -41.372)" stroke="#0568FF" stroke-width="0.7" stroke-linejoin="round">OH</text>
<line x1="818.6" y1="838" x2="818.6" y2="855.5" stroke="#0568FF" stroke-width="3.4" stroke-linecap="butt"/>
<line x1="818.6" y1="878" x2="818.6" y2="895.5" stroke="#0568FF" stroke-width="3.4" stroke-linecap="butt"/>
<line x1="790" y1="863.2" x2="809.5" y2="863.2" stroke="#0568FF" stroke-width="3" stroke-linecap="butt"/>
<line x1="790" y1="870.2" x2="809.5" y2="870.2" stroke="#0568FF" stroke-width="3" stroke-linecap="butt"/>
<line x1="828.5" y1="866.7" x2="844.5" y2="866.7" stroke="#0568FF" stroke-width="3.4" stroke-linecap="butt"/>
<text x="778.3" y="875.2" font-size="23.6" font-weight="bold" fill="#0568FF" text-anchor="middle" transform="matrix(1 0 0 1.05 0 -43.762)" stroke="#0568FF" stroke-width="0.7" stroke-linejoin="round">O</text>
<text x="818.8" y="875.2" font-size="23.6" font-weight="bold" fill="#0568FF" text-anchor="middle" transform="matrix(1 0 0 1.05 0 -43.762)" stroke="#0568FF" stroke-width="0.7" stroke-linejoin="round">P</text>
<text x="844.7" y="875.2" font-size="23.6" font-weight="bold" fill="#0568FF" text-anchor="start" transform="matrix(1 0 0 1.05 0 -43.762)" stroke="#0568FF" stroke-width="0.7" stroke-linejoin="round">O-</text>
<text x="809.7" y="917.2" font-size="23.6" font-weight="bold" fill="#0568FF" text-anchor="start" transform="matrix(1 0 0 1.05 0 -45.862)" stroke="#0568FF" stroke-width="0.7" stroke-linejoin="round">O-</text>
<line x1="165.7" y1="630.5" x2="165.7" y2="602.3" stroke="#000" stroke-width="3.4" stroke-linecap="butt"/>
<line x1="166.4" y1="629.5" x2="135" y2="647.2" stroke="#000" stroke-width="3.4" stroke-linecap="butt"/>
<line x1="166.9" y1="639.6" x2="137.9" y2="656" stroke="#000" stroke-width="3.4" stroke-linecap="butt"/>
<line x1="124.8" y1="663.2" x2="124.8" y2="700.4" stroke="#000" stroke-width="3.4" stroke-linecap="butt"/>
<line x1="124.1" y1="699.2" x2="155.3" y2="717.3" stroke="#000" stroke-width="3.4" stroke-linecap="butt"/>
<line x1="130.9" y1="693.7" x2="158.1" y2="709.4" stroke="#000" stroke-width="3.4" stroke-linecap="butt"/>
<line x1="175.8" y1="717.5" x2="208.1" y2="699.2" stroke="#000" stroke-width="3.4" stroke-linecap="butt"/>
<line x1="207.4" y1="700.4" x2="207.4" y2="652.2" stroke="#000" stroke-width="3.4" stroke-linecap="butt"/>
<line x1="197.8" y1="694.3" x2="197.8" y2="659.1" stroke="#000" stroke-width="3.4" stroke-linecap="butt"/>
<line x1="208.1" y1="653.3" x2="165" y2="629.6" stroke="#000" stroke-width="3.4" stroke-linecap="butt"/>
<line x1="207" y1="653.2" x2="241.5" y2="643" stroke="#000" stroke-width="3.4" stroke-linecap="butt"/>
<line x1="257.2" y1="649.3" x2="281.3" y2="678.3" stroke="#000" stroke-width="3.4" stroke-linecap="butt"/>
<line x1="247.4" y1="651.3" x2="269" y2="679.2" stroke="#000" stroke-width="3.4" stroke-linecap="butt"/>
<line x1="281.3" y1="676.9" x2="256.3" y2="710.7" stroke="#000" stroke-width="3.4" stroke-linecap="butt"/>
<line x1="206.8" y1="699.2" x2="237.6" y2="718.1" stroke="#000" stroke-width="3.4" stroke-linecap="butt"/>
<line x1="246.9" y1="731.7" x2="246.9" y2="747.5" stroke="#000" stroke-width="3.4" stroke-linecap="butt"/>
<line x1="246.3" y1="747" x2="275.1" y2="725.6" stroke="#000" stroke-width="3.4" stroke-linecap="butt"/>
<line x1="295.2" y1="725.6" x2="324" y2="747" stroke="#000" stroke-width="3.4" stroke-linecap="butt"/>
<line x1="323.3" y1="747.9" x2="323.3" y2="721.7" stroke="#000" stroke-width="3.4" stroke-linecap="butt"/>
<line x1="322.8" y1="723" x2="353.3" y2="706.1" stroke="#000" stroke-width="3.4" stroke-linecap="butt"/>
<polyline points="246.9,746.2 261.4,790.4 308,790.4 323.3,746.2" fill="none" stroke="#000" stroke-width="4" stroke-linejoin="miter" stroke-linecap="butt"/>
<line x1="402.3" y1="672.2" x2="402.3" y2="688.1" stroke="#000" stroke-width="3.4" stroke-linecap="butt"/>
<line x1="398.5" y1="711.5" x2="398.5" y2="730.3" stroke="#000" stroke-width="3.4" stroke-linecap="butt"/>
<line x1="406.1" y1="711.5" x2="406.1" y2="730.3" stroke="#000" stroke-width="3.4" stroke-linecap="butt"/>
<line x1="479.4" y1="672.2" x2="479.4" y2="688.1" stroke="#000" stroke-width="3.4" stroke-linecap="butt"/>
<line x1="475.6" y1="711.5" x2="475.6" y2="730.3" stroke="#000" stroke-width="3.4" stroke-linecap="butt"/>
<line x1="483.2" y1="711.5" x2="483.2" y2="730.3" stroke="#000" stroke-width="3.4" stroke-linecap="butt"/>
<line x1="376" y1="699.6" x2="392.9" y2="699.6" stroke="#000" stroke-width="3.4" stroke-linecap="butt"/>
<line x1="410.3" y1="699.6" x2="430" y2="699.6" stroke="#000" stroke-width="3.4" stroke-linecap="butt"/>
<line x1="453" y1="699.6" x2="470" y2="699.6" stroke="#000" stroke-width="3.4" stroke-linecap="butt"/>
<line x1="487.4" y1="699.6" x2="507.8" y2="699.6" stroke="#000" stroke-width="3.4" stroke-linecap="butt"/>
<text x="155.6" y="597.4" font-size="21.9" font-weight="bold" fill="#000" text-anchor="start" transform="matrix(1 0 0 1.05 0 -29.868)" stroke="#000" stroke-width="0.7" stroke-linejoin="round">NH<tspan font-size="18.7" dy="4.3" dx="0.2">2</tspan></text>
<text x="124.8" y="659.1" font-size="23.6" font-weight="bold" fill="#000" text-anchor="middle" transform="matrix(1 0 0 1.05 0 -32.953)" stroke="#000" stroke-width="0.7" stroke-linejoin="round">N</text>
<text x="165.7" y="727.5" font-size="23.6" font-weight="bold" fill="#000" text-anchor="middle" transform="matrix(1 0 0 1.05 0 -36.376)" stroke="#000" stroke-width="0.7" stroke-linejoin="round">N</text>
<text x="251.6" y="646" font-size="23.6" font-weight="bold" fill="#000" text-anchor="middle" transform="matrix(1 0 0 1.05 0 -32.299)" stroke="#000" stroke-width="0.7" stroke-linejoin="round">N</text>
<text x="246.7" y="727.6" font-size="23.6" font-weight="bold" fill="#000" text-anchor="middle" transform="matrix(1 0 0 1.05 0 -36.381)" stroke="#000" stroke-width="0.7" stroke-linejoin="round">N</text>
<text x="285.5" y="727.9" font-size="23.6" font-weight="bold" fill="#000" text-anchor="middle" transform="matrix(1 0 0 1.05 0 -36.397)" stroke="#000" stroke-width="0.7" stroke-linejoin="round">O</text>
<text x="364.1" y="708.1" font-size="23.6" font-weight="bold" fill="#000" text-anchor="middle" transform="matrix(1 0 0 1.05 0 -35.407)" stroke="#000" stroke-width="0.7" stroke-linejoin="round">O</text>
<text x="402.7" y="708.1" font-size="23.6" font-weight="bold" fill="#000" text-anchor="middle" transform="matrix(1 0 0 1.05 0 -35.407)" stroke="#000" stroke-width="0.7" stroke-linejoin="round">P</text>
<text x="441.5" y="708.1" font-size="23.6" font-weight="bold" fill="#000" text-anchor="middle" transform="matrix(1 0 0 1.05 0 -35.407)" stroke="#000" stroke-width="0.7" stroke-linejoin="round">O</text>
<text x="479.8" y="708.1" font-size="23.6" font-weight="bold" fill="#000" text-anchor="middle" transform="matrix(1 0 0 1.05 0 -35.407)" stroke="#000" stroke-width="0.7" stroke-linejoin="round">P</text>
<text x="518.4" y="708.1" font-size="23.6" font-weight="bold" fill="#000" text-anchor="middle" transform="matrix(1 0 0 1.05 0 -35.407)" stroke="#000" stroke-width="0.7" stroke-linejoin="round">O</text>
<text x="393.1" y="669.7" font-size="23.6" font-weight="bold" fill="#000" text-anchor="start" transform="matrix(1 0 0 1.05 0 -33.485)" stroke="#000" stroke-width="0.7" stroke-linejoin="round">O-</text>
<text x="402.3" y="749.9" font-size="23.6" font-weight="bold" fill="#000" text-anchor="middle" transform="matrix(1 0 0 1.05 0 -37.493)" stroke="#000" stroke-width="0.7" stroke-linejoin="round">O</text>
<text x="470.2" y="669.7" font-size="23.6" font-weight="bold" fill="#000" text-anchor="start" transform="matrix(1 0 0 1.05 0 -33.485)" stroke="#000" stroke-width="0.7" stroke-linejoin="round">O-</text>
<text x="479.4" y="749.9" font-size="23.6" font-weight="bold" fill="#000" text-anchor="middle" transform="matrix(1 0 0 1.05 0 -37.493)" stroke="#000" stroke-width="0.7" stroke-linejoin="round">O</text>
<line x1="261.4" y1="790.4" x2="261.4" y2="809.6" stroke="#000" stroke-width="3.4" stroke-linecap="butt"/>
<line x1="308" y1="790.4" x2="308" y2="809.6" stroke="#000" stroke-width="3.4" stroke-linecap="butt"/>
<text x="271.2" y="831.7" font-size="23.6" font-weight="bold" fill="#000" text-anchor="end" transform="matrix(1 0 0 1.05 0 -41.583)" stroke="#000" stroke-width="0.7" stroke-linejoin="round">HO</text>
<text x="298.6" y="831.7" font-size="23.6" font-weight="bold" fill="#000" text-anchor="start" transform="matrix(1 0 0 1.05 0 -41.583)" stroke="#000" stroke-width="0.7" stroke-linejoin="round">OH</text>
<line x1="530" y1="699.6" x2="546" y2="699.6" stroke="#00865E" stroke-width="3.4" stroke-linecap="butt"/>
<line x1="567" y1="699.6" x2="583" y2="699.6" stroke="#00865E" stroke-width="3.4" stroke-linecap="butt"/>
<line x1="556.3" y1="672" x2="556.3" y2="688" stroke="#00865E" stroke-width="3.4" stroke-linecap="butt"/>
<line x1="552.4" y1="711.5" x2="552.4" y2="730.5" stroke="#00865E" stroke-width="3.4" stroke-linecap="butt"/>
<line x1="560.2" y1="711.5" x2="560.2" y2="730.5" stroke="#00865E" stroke-width="3.4" stroke-linecap="butt"/>
<text x="556.7" y="708.1" font-size="23.6" font-weight="bold" fill="#00865E" text-anchor="middle" transform="matrix(1 0 0 1.05 0 -35.407)" stroke="#00865E" stroke-width="0.7" stroke-linejoin="round">P</text>
<text x="584.1" y="708.1" font-size="23.6" font-weight="bold" fill="#00865E" text-anchor="start" transform="matrix(1 0 0 1.05 0 -35.407)" stroke="#00865E" stroke-width="0.7" stroke-linejoin="round">O-</text>
<text x="547.1" y="668.8" font-size="23.6" font-weight="bold" fill="#00865E" text-anchor="start" transform="matrix(1 0 0 1.05 0 -33.442)" stroke="#00865E" stroke-width="0.7" stroke-linejoin="round">O-</text>
<text x="556.3" y="750.7" font-size="23.6" font-weight="bold" fill="#00865E" text-anchor="middle" transform="matrix(1 0 0 1.05 0 -37.537)" stroke="#00865E" stroke-width="0.7" stroke-linejoin="round">O</text>
<rect x="515.4" y="754" width="2.6" height="153" fill="url(#gAtp)"/>
<rect x="616.9" y="754" width="2.6" height="153" fill="url(#gAtp)"/>
<rect x="515.4" y="905.4" width="104.1" height="2.6" fill="#00865E"/>
<text x="532.3" y="890.5" font-size="36.7" font-weight="bold" fill="#00865E" text-anchor="start" textLength="67.5" lengthAdjust="spacingAndGlyphs" stroke="#00865E" stroke-width="1.1" stroke-linejoin="round">ATP</text>
<rect x="1180" y="288.6" width="298.1" height="2.6" fill="url(#gNadTop)"/>
<rect x="1475.5" y="288.6" width="2.6" height="283.8" fill="url(#gNadRight)"/>
<rect x="1340" y="569.8" width="138.1" height="2.6" fill="url(#gNadBot)"/>
<text x="1342.6" y="329" font-size="37.3" font-weight="bold" fill="#8E0067" text-anchor="start" textLength="119.6" lengthAdjust="spacingAndGlyphs" stroke="#8E0067" stroke-width="1.1" stroke-linejoin="round">NAD[H]</text>
<rect x="1315" y="549.2" width="119.7" height="2.6" fill="url(#gNpTop)"/>
<rect x="1432.1" y="549.2" width="2.6" height="361.4" fill="url(#gNpRight)"/>
<rect x="1100" y="908" width="334.7" height="2.6" fill="url(#gNpBot)"/>
<text x="1275.8" y="891.5" font-size="37.3" font-weight="bold" fill="#0568FF" text-anchor="start" textLength="143" lengthAdjust="spacingAndGlyphs" stroke="#0568FF" stroke-width="1.1" stroke-linejoin="round">NADP[H]</text>
<polygon points="473.6,335.6 473.5,336.5 473.4,337.4 473.3,338.5 473.2,339.6 473.1,340.8 472.9,342.2 472.8,343.7 472.6,345.4 472.3,347.4 472,349.5 471.7,352 471.3,354.7 470.7,357.8 470.2,361.3 469.6,365.2 468.9,369.3 468.2,373.6 467.5,378 466.7,382.6 465.9,387.2 465,391.8 464.1,396.4 463.2,400.8 462.2,405.1 461.2,409.2 460.2,413.4 459.2,417.6 458.1,421.8 457,426 455.8,430.2 454.6,434.3 453.4,438.5 452.1,442.7 450.8,446.9 449.4,451.1 448,455.2 446.6,459.4 445.1,463.7 443.6,467.9 442.1,472 440.5,476.2 438.9,480.4 437.2,484.6 435.5,488.7 433.6,492.9 431.7,497 429.7,501.2 427.7,505.3 425.4,509.5 423,513.8 420.5,518.1 417.8,522.5 415.1,527 412.3,531.3 409.5,535.7 406.7,539.9 403.9,544 401.2,548 398.6,551.8 396.1,555.4 393.7,558.7 391.3,561.9 389,565 386.7,568 384.4,570.8 382.2,573.6 380,576.2 377.9,578.7 375.8,581.1 373.7,583.4 371.7,585.7 369.8,587.8 368,589.7 366.4,591.4 364.8,593 363.3,594.4 361.9,595.7 360.5,597 359.1,598.2 357.7,599.4 356.2,600.7 354.6,602 352.9,603.4 351.2,605 349.3,606.6 347.3,608.3 345.2,610.1 343.1,611.9 340.8,613.7 338.6,615.6 336.5,617.4 334.3,619.1 332.3,620.8 330.4,622.4 328.7,623.8 327.1,625.1 325.7,626.2 324.4,627.2 323.3,628.2 322.2,629 321.2,629.8 320.4,630.5 319.5,631.1 318.8,631.7 318.2,632.2 317.6,632.6 317,633 316.5,633.4 323.5,642.2 323.9,641.8 324.4,641.4 325,640.9 325.7,640.4 326.4,639.8 327.2,639.2 328.1,638.4 329.1,637.6 330.2,636.7 331.4,635.8 332.7,634.7 334.1,633.5 335.6,632.2 337.4,630.8 339.3,629.2 341.3,627.5 343.4,625.7 345.6,623.9 347.8,622 350,620.1 352.2,618.3 354.3,616.5 356.4,614.7 358.2,613 360,611.5 361.6,610.1 363.1,608.8 364.6,607.5 366.1,606.2 367.6,604.9 369.1,603.5 370.6,602.1 372.3,600.5 373.9,598.8 375.7,596.9 377.6,594.8 379.5,592.6 381.6,590.4 383.6,588 385.8,585.5 388,582.9 390.2,580.2 392.5,577.3 394.8,574.4 397.2,571.3 399.6,568.1 402,564.7 404.5,561.2 407,557.6 409.6,553.8 412.4,549.7 415.2,545.5 418,541.2 420.8,536.8 423.7,532.3 426.4,527.8 429.2,523.3 431.8,518.7 434.2,514.3 436.5,509.9 438.7,505.6 440.7,501.2 442.7,496.9 444.6,492.6 446.3,488.3 448,484 449.7,479.7 451.3,475.4 452.8,471.1 454.3,466.9 455.7,462.6 457.2,458.4 458.6,454.1 460,449.8 461.3,445.5 462.6,441.3 463.8,437 465,432.7 466.2,428.5 467.3,424.2 468.4,419.9 469.4,415.7 470.4,411.4 471.4,407.1 472.3,402.7 473.2,398.2 474.1,393.6 475,388.9 475.8,384.2 476.5,379.5 477.3,375 477.9,370.7 478.6,366.6 479.2,362.7 479.7,359.2 480.1,356.1 480.6,353.3 480.9,350.7 481.2,348.4 481.4,346.4 481.5,344.5 481.7,342.9 481.8,341.5 481.8,340.2 481.9,339 481.9,338.1 482,337.2 482,336.4" fill="url(#gArrL)"/>
<polygon points="309,646.7 318,629 329.5,645.3" fill="#FF5405"/>
<polygon points="499.6,345.6 499.6,345.5 499.5,345.3 499.5,345.2 499.5,345.4 499.5,345.8 499.5,346.3 499.5,346.8 499.6,347.4 499.7,348 499.8,348.8 500,349.6 500.3,350.6 500.5,351.7 500.8,353 501.1,354.4 501.5,355.9 501.9,357.6 502.3,359.4 502.8,361.3 503.4,363.4 504,365.5 504.7,367.7 505.5,370 506.4,372.3 507.3,374.7 508.3,377.2 509.3,379.8 510.5,382.6 511.7,385.5 512.9,388.4 514.2,391.4 515.6,394.4 517.1,397.4 518.6,400.3 520.2,403.3 521.8,406.1 523.4,408.8 525.2,411.5 527,414.2 528.8,416.9 530.7,419.6 532.7,422.2 534.7,424.8 536.7,427.4 538.8,430 540.9,432.5 543,434.9 545.2,437.3 547.3,439.7 549.6,442.1 551.9,444.4 554.2,446.6 556.6,448.9 558.9,451 561.3,453.2 563.8,455.3 566.2,457.4 568.7,459.4 571.1,461.4 573.6,463.4 576.1,465.3 578.7,467.3 581.4,469.2 584.1,471 586.7,472.9 589.4,474.6 592.1,476.4 594.7,478 597.2,479.7 599.7,481.2 602.1,482.7 604.4,484.1 606.6,485.5 608.9,486.8 611.1,488.1 613.2,489.3 615.3,490.4 617.3,491.5 619.2,492.5 621.1,493.5 622.8,494.4 624.4,495.3 625.9,496.1 627.3,496.9 628.5,497.6 629.7,498.3 630.7,499 631.7,499.6 632.6,500.2 633.4,500.8 634.1,501.3 634.8,501.8 635.4,502.2 636,502.6 636.6,503 637,503.3 643,494.3 642.5,494 642.1,493.7 641.5,493.3 640.9,492.9 640.2,492.4 639.3,491.9 638.5,491.3 637.5,490.7 636.4,490 635.2,489.3 633.9,488.5 632.5,487.7 631,486.9 629.4,486 627.7,485.1 626,484.2 624.1,483.2 622.2,482.2 620.3,481.2 618.2,480.1 616.2,479 614.1,477.8 612,476.6 609.8,475.3 607.5,473.9 605.2,472.4 602.7,470.9 600.2,469.3 597.6,467.7 595,466.1 592.4,464.4 589.8,462.6 587.2,460.8 584.7,459.1 582.2,457.2 579.8,455.4 577.4,453.5 575,451.6 572.7,449.7 570.3,447.7 567.9,445.7 565.6,443.6 563.3,441.5 561.1,439.4 558.9,437.3 556.7,435.1 554.5,432.9 552.4,430.7 550.4,428.4 548.3,426.1 546.3,423.7 544.3,421.3 542.4,418.8 540.4,416.3 538.6,413.8 536.7,411.3 535,408.8 533.3,406.2 531.6,403.7 530,401.1 528.5,398.6 527,395.9 525.6,393.1 524.2,390.3 522.9,387.5 521.6,384.6 520.3,381.8 519.2,379 518,376.3 517,373.7 516,371.2 515,368.9 514.2,366.8 513.5,364.7 512.8,362.7 512.2,360.8 511.7,358.9 511.2,357.1 510.7,355.4 510.3,353.8 509.9,352.3 509.6,350.9 509.3,349.5 508.9,348.4 508.7,347.4 508.5,346.7 508.3,346.2 508.3,345.8 508.2,345.6 508.2,345.6 508.2,345.6 508.1,345.7 508.1,345.7 508.1,345.3 508.1,344.8 508,344.4" fill="url(#gArrR)"/>
<polygon points="652.3,508.9 642.6,492 632,509.7" fill="#FF5405"/>
<text x="2.6" y="1014.3" font-size="61.1" font-weight="bold" fill="#000" text-anchor="start" textLength="37.2" lengthAdjust="spacingAndGlyphs" stroke="#000" stroke-width="0.9" stroke-linejoin="round">B</text>
<rect x="7.5" y="1103" width="497.3" height="71.7" fill="#FF5303"/>
<rect x="7.5" y="1174.7" width="497.3" height="71.9" fill="#FF8147"/>
<rect x="7.5" y="1246.6" width="497.3" height="71.4" fill="#0065FF"/>
<rect x="7.5" y="1318" width="497.3" height="71.5" fill="#5596FF"/>
<line x1="7.5" y1="1174.7" x2="504.8" y2="1174.7" stroke="#111" stroke-width="1.9" stroke-dasharray="2 2.8"/>
<line x1="7.5" y1="1318" x2="504.8" y2="1318" stroke="#111" stroke-width="1.9" stroke-dasharray="2 2.8"/>
<rect x="7.5" y="1101" width="497.3" height="4" fill="#000"/>
<rect x="7.5" y="1245.6" width="497.3" height="1.9" fill="#000"/>
<rect x="7.5" y="1388.3" width="497.3" height="2.2" fill="#000"/>
<rect x="510" y="988" width="298.3" height="115" fill="url(#gHead)"/>
<rect x="510" y="1103" width="298.3" height="71.7" fill="#FF5303"/>
<rect x="510" y="1174.7" width="298.3" height="71.9" fill="#FF8147"/>
<rect x="510" y="1246.6" width="298.3" height="71.4" fill="#0065FF"/>
<rect x="510" y="1318" width="298.3" height="71.5" fill="#5596FF"/>
<line x1="510" y1="1174.7" x2="808.3" y2="1174.7" stroke="#111" stroke-width="1.9" stroke-dasharray="2 2.8"/>
<line x1="510" y1="1318" x2="808.3" y2="1318" stroke="#111" stroke-width="1.9" stroke-dasharray="2 2.8"/>
<rect x="510" y="1101" width="298.3" height="4" fill="#000"/>
<rect x="510" y="1245.6" width="298.3" height="1.9" fill="#000"/>
<rect x="510" y="1388.3" width="298.3" height="2.2" fill="#000"/>
<rect x="813.6" y="988" width="301.4" height="115" fill="url(#gHead)"/>
<rect x="813.6" y="1103" width="301.4" height="71.7" fill="#FF5303"/>
<rect x="813.6" y="1174.7" width="301.4" height="71.9" fill="#FF8147"/>
<rect x="813.6" y="1246.6" width="301.4" height="71.4" fill="#0065FF"/>
<rect x="813.6" y="1318" width="301.4" height="71.5" fill="#5596FF"/>
<line x1="813.6" y1="1174.7" x2="1115" y2="1174.7" stroke="#111" stroke-width="1.9" stroke-dasharray="2 2.8"/>
<line x1="813.6" y1="1318" x2="1115" y2="1318" stroke="#111" stroke-width="1.9" stroke-dasharray="2 2.8"/>
<rect x="813.6" y="1101" width="301.4" height="4" fill="#000"/>
<rect x="813.6" y="1245.6" width="301.4" height="1.9" fill="#000"/>
<rect x="813.6" y="1388.3" width="301.4" height="2.2" fill="#000"/>
<rect x="1120.4" y="988" width="367.6" height="115" fill="url(#gHead)"/>
<rect x="1120.4" y="1103" width="367.6" height="143.6" fill="#FF5303"/>
<rect x="1120.4" y="1246.6" width="367.6" height="142.9" fill="#0065FF"/>
<rect x="1120.4" y="1101" width="367.6" height="4" fill="#000"/>
<rect x="1120.4" y="1245.6" width="367.6" height="1.9" fill="#000"/>
<rect x="1120.4" y="1388.3" width="367.6" height="2.2" fill="#000"/>
<text x="543.8" y="1021.3" font-size="33.1" font-weight="bold" fill="#000" text-anchor="start" textLength="229.3" lengthAdjust="spacingAndGlyphs" stroke="#000" stroke-width="0.5" stroke-linejoin="round">CoA-reachable</text>
<text x="594.7" y="1052.2" font-size="33.1" font-weight="bold" fill="#000" text-anchor="start" textLength="119.7" lengthAdjust="spacingAndGlyphs" stroke="#000" stroke-width="0.5" stroke-linejoin="round">Lysines</text>
<text x="513.9" y="1081.3" font-size="26.9" font-weight="normal" fill="#000" text-anchor="start" textLength="288" lengthAdjust="spacingAndGlyphs">&lt;5&#197; from CoA Ensemble</text>
<text x="831.8" y="1021.3" font-size="33.1" font-weight="bold" fill="#000" text-anchor="start" textLength="258" lengthAdjust="spacingAndGlyphs" stroke="#000" stroke-width="0.5" stroke-linejoin="round">CoA-unreachable</text>
<text x="897.5" y="1052.2" font-size="33.1" font-weight="bold" fill="#000" text-anchor="start" textLength="119.7" lengthAdjust="spacingAndGlyphs" stroke="#000" stroke-width="0.5" stroke-linejoin="round">Lysines</text>
<text x="816.5" y="1081.3" font-size="26.9" font-weight="normal" fill="#000" text-anchor="start" textLength="288" lengthAdjust="spacingAndGlyphs">&gt;5&#197; from CoA Ensemble</text>
<text x="1149.1" y="1020" font-size="33.1" font-weight="bold" fill="#000" text-anchor="start" textLength="308.3" lengthAdjust="spacingAndGlyphs" stroke="#000" stroke-width="0.5" stroke-linejoin="round">Relative Odds Ratio</text>
<text x="1150" y="1049.2" font-size="26.9" font-weight="normal" fill="#000" text-anchor="start" textLength="305.5" lengthAdjust="spacingAndGlyphs">for CoA-reachable Lysines</text>
<text x="1216.9" y="1079" font-size="26.9" font-weight="normal" fill="#000" text-anchor="start" textLength="171.5" lengthAdjust="spacingAndGlyphs">Being Acylated</text>
<text x="17.3" y="1149" font-size="36.9" font-weight="bold" fill="#fff" text-anchor="start" textLength="104.4" lengthAdjust="spacingAndGlyphs" stroke="#fff" stroke-width="0.5" stroke-linejoin="round">GluKs</text>
<text x="133.6" y="1149" font-size="36.9" font-weight="normal" fill="#fff" text-anchor="start" textLength="185.2" lengthAdjust="spacingAndGlyphs">on CoABPs</text>
<text x="17.3" y="1221.8" font-size="36.9" font-weight="bold" fill="#fff" text-anchor="start" textLength="187.4" lengthAdjust="spacingAndGlyphs" stroke="#fff" stroke-width="0.5" stroke-linejoin="round">Non-GluKs</text>
<text x="216.8" y="1221.8" font-size="36.9" font-weight="normal" fill="#fff" text-anchor="start" textLength="185" lengthAdjust="spacingAndGlyphs">on CoABPs</text>
<text x="17.3" y="1294.3" font-size="36.9" font-weight="bold" fill="#fff" text-anchor="start" textLength="104.4" lengthAdjust="spacingAndGlyphs" stroke="#fff" stroke-width="0.5" stroke-linejoin="round">GluKs</text>
<text x="133.6" y="1294.3" font-size="36.9" font-weight="normal" fill="#fff" text-anchor="start" textLength="216.4" lengthAdjust="spacingAndGlyphs">on NADPBPs</text>
<text x="17.3" y="1367.2" font-size="36.9" font-weight="bold" fill="#fff" text-anchor="start" textLength="181" lengthAdjust="spacingAndGlyphs" stroke="#fff" stroke-width="0.5" stroke-linejoin="round">Non-GluKs</text>
<text x="210.2" y="1367.2" font-size="36.9" font-weight="normal" fill="#fff" text-anchor="start" textLength="216.4" lengthAdjust="spacingAndGlyphs">on NADPBPs</text>
<text x="649.3" y="1155.4" font-size="35.8" font-weight="bold" fill="#fff" text-anchor="start" stroke="#fff" stroke-width="0.5" stroke-linejoin="round">23</text>
<text x="649.3" y="1225.8" font-size="35.8" font-weight="bold" fill="#fff" text-anchor="start" stroke="#fff" stroke-width="0.5" stroke-linejoin="round">35</text>
<text x="668.8" y="1297.8" font-size="35.8" font-weight="bold" fill="#fff" text-anchor="start" stroke="#fff" stroke-width="0.5" stroke-linejoin="round">0</text>
<text x="649.3" y="1369" font-size="35.8" font-weight="bold" fill="#fff" text-anchor="start" stroke="#fff" stroke-width="0.5" stroke-linejoin="round">67</text>
<text x="943.5" y="1155.4" font-size="35.8" font-weight="bold" fill="#fff" text-anchor="start" stroke="#fff" stroke-width="0.5" stroke-linejoin="round">35</text>
<text x="924.5" y="1225.8" font-size="35.8" font-weight="bold" fill="#fff" text-anchor="start" stroke="#fff" stroke-width="0.5" stroke-linejoin="round">411</text>
<text x="963" y="1297.8" font-size="35.8" font-weight="bold" fill="#fff" text-anchor="start" stroke="#fff" stroke-width="0.5" stroke-linejoin="round">6</text>
<text x="923.8" y="1369" font-size="35.8" font-weight="bold" fill="#fff" text-anchor="start" stroke="#fff" stroke-width="0.5" stroke-linejoin="round">347</text>
<text x="1159.8" y="1185.8" font-size="36.2" font-weight="bold" fill="#fff" text-anchor="start" textLength="69" lengthAdjust="spacingAndGlyphs" stroke="#fff" stroke-width="0.5" stroke-linejoin="round">3.03</text>
<text x="1240.8" y="1185.8" font-size="36" fill="#fff" textLength="206" lengthAdjust="spacingAndGlyphs">(<tspan font-style="italic">P</tspan> = 3.74E&#8722;4)</text>
<text x="1261.5" y="1330" font-size="36.2" font-weight="bold" fill="#fff" text-anchor="start" textLength="18" lengthAdjust="spacingAndGlyphs" stroke="#fff" stroke-width="0.5" stroke-linejoin="round">0</text>
<text x="1290" y="1330" font-size="36.2" font-weight="normal" fill="#fff" text-anchor="start" textLength="54.5" lengthAdjust="spacingAndGlyphs">(ns)</text>
<text x="1.2" y="1492.3" font-size="61.1" font-weight="bold" fill="#000" text-anchor="start" textLength="38.2" lengthAdjust="spacingAndGlyphs" stroke="#000" stroke-width="0.9" stroke-linejoin="round">C</text>
<text x="4.5" y="1534.8" font-size="34.7" font-weight="bold" fill="#000" stroke="#000" stroke-width="0.5" textLength="1492" lengthAdjust="spacingAndGlyphs">Increased Probability of Acylation near CoA-binding Sites, <tspan font-style="italic">Not</tspan> NAD or NADP Binding Sites</text>
<polyline points="107.4,1958.8 114.2,1887.1 121,1815.3 127.8,1881.3 134.5,1869.8 141.3,1866.4 148.1,1857.5 154.9,1862.7 161.7,1856.3 168.5,1862.7 175.3,1868.4 182.1,1862.1 188.8,1862.7 195.6,1884.8 202.4,1887.1 209.2,1900 216,1898 222.8,1909.4 229.6,1912.3 236.3,1912.9 243.1,1917.2 249.9,1920.1 256.7,1909.4 263.5,1905.7 270.3,1904.3 277.1,1895.7 283.8,1903.7 290.6,1910.6 297.4,1896.2 304.2,1907.7 311,1908 317.8,1913.5 324.6,1905.7 331.3,1902.8 338.1,1910 344.9,1902.8 351.7,1909.4 358.5,1903.7 365.3,1902.3 372.1,1900.5 378.8,1894.2 385.6,1885.6 392.4,1885.6 399.2,1871.3 406,1872.7 412.8,1869.8 419.6,1868.4 426.3,1859.8 433.1,1846.9 439.9,1829.6 446.7,1819.6 453.5,1836.8 460.3,1854 467.1,1867 473.8,1858.3 480.6,1848.3 487.4,1856.3 494.2,1862.7 501,1854 507.8,1869.3" fill="none" stroke="#0568FF" stroke-width="6.8" stroke-linejoin="miter" stroke-linecap="butt" stroke-miterlimit="1.5"/>
<polyline points="107.4,1892.8 114.2,1908.6 121,1879.9 127.8,1882.7 134.5,1908.6 141.3,1925.8 148.1,1926.7 154.9,1900 161.7,1894.2 168.5,1907.1 175.3,1914.3 182.1,1920.1 188.8,1922.1 195.6,1912.9 202.4,1924.4 209.2,1925.8 216,1927.2 222.8,1935.3 229.6,1933 236.3,1927.2 243.1,1910.9 249.9,1914.3 256.7,1921.5 263.5,1934.4 270.3,1939.3 277.1,1929.5 283.8,1929.5 290.6,1925.8 297.4,1923.8 304.2,1925.2 311,1927.8 317.8,1939.3 324.6,1939.6 331.3,1933 338.1,1925.8 344.9,1920.9 351.7,1915.8 358.5,1922.9 365.3,1904.3 372.1,1905.1 378.8,1904.3 385.6,1896.2 392.4,1899.1 399.2,1882.7 406,1869.8 412.8,1864.1 419.6,1842.6 426.3,1840.5 433.1,1845.4 439.9,1844 446.7,1858.3 453.5,1865.5 460.3,1854 467.1,1851.2 473.8,1865.5 480.6,1864.1 487.4,1868.4 494.2,1866.4 501,1877 507.8,1862.7" fill="none" stroke="#8E0067" stroke-width="6.8" stroke-linejoin="miter" stroke-linecap="butt" stroke-miterlimit="1.5"/>
<polyline points="107.4,1651.1 114.2,1633.9 121,1623.5 127.8,1648.8 134.5,1660.3 141.3,1691.9 148.1,1714.8 154.9,1736.3 161.7,1740.7 168.5,1734.9 175.3,1750.7 182.1,1745 188.8,1755 195.6,1749.8 202.4,1769.4 209.2,1773.7 216,1767.4 222.8,1768.8 229.6,1760.2 236.3,1771.4 243.1,1773.7 249.9,1757.9 256.7,1757.9 263.5,1758.5 270.3,1751.6 277.1,1751.6 283.8,1742.7 290.6,1745.5 297.4,1748.7 304.2,1751 311,1769.9 317.8,1769.4 324.6,1775.7 331.3,1782.3 338.1,1774.5 344.9,1776.5 351.7,1775.1 358.5,1781.4 365.3,1784.6 372.1,1783.7 378.8,1778 385.6,1772.2 392.4,1782.9 399.2,1781.4 406,1780.8 412.8,1796.6 419.6,1798.1 426.3,1812.4 433.1,1795.2 439.9,1803.2 446.7,1808.1 453.5,1811 460.3,1806.1 467.1,1809 473.8,1816.7 480.6,1824.8 487.4,1828.2 494.2,1823.9 501,1837.7 507.8,1814.7" fill="none" stroke="#FF5405" stroke-width="6.8" stroke-linejoin="miter" stroke-linecap="butt" stroke-miterlimit="1.5"/>
<line x1="107.7" y1="1584" x2="107.7" y2="2062.9" stroke="#000" stroke-width="3.5" stroke-linecap="butt"/>
<line x1="106" y1="2061.2" x2="516.5" y2="2061.2" stroke="#000" stroke-width="3.5" stroke-linecap="butt"/>
<line x1="94.5" y1="1585.8" x2="107.7" y2="1585.8" stroke="#000" stroke-width="3.2" stroke-linecap="butt"/>
<text x="91.5" y="1594.8" font-size="30.4" font-weight="normal" fill="#000" text-anchor="end">2.5</text>
<line x1="94.5" y1="1682" x2="107.7" y2="1682" stroke="#000" stroke-width="3.2" stroke-linecap="butt"/>
<text x="91.5" y="1691" font-size="30.4" font-weight="normal" fill="#000" text-anchor="end">2.0</text>
<line x1="94.5" y1="1777" x2="107.7" y2="1777" stroke="#000" stroke-width="3.2" stroke-linecap="butt"/>
<text x="91.5" y="1786" font-size="30.4" font-weight="normal" fill="#000" text-anchor="end">1.5</text>
<line x1="94.5" y1="1871.6" x2="107.7" y2="1871.6" stroke="#000" stroke-width="3.2" stroke-linecap="butt"/>
<text x="91.5" y="1880.6" font-size="30.4" font-weight="normal" fill="#000" text-anchor="end">1.0</text>
<line x1="94.5" y1="1966.4" x2="107.7" y2="1966.4" stroke="#000" stroke-width="3.2" stroke-linecap="butt"/>
<text x="91.5" y="1975.4" font-size="30.4" font-weight="normal" fill="#000" text-anchor="end">0.5</text>
<line x1="94.5" y1="2061.2" x2="107.7" y2="2061.2" stroke="#000" stroke-width="3.2" stroke-linecap="butt"/>
<text x="91.5" y="2070.2" font-size="30.4" font-weight="normal" fill="#000" text-anchor="end">0</text>
<line x1="107.7" y1="2061.2" x2="107.7" y2="2073.2" stroke="#000" stroke-width="3.2" stroke-linecap="butt"/>
<text x="108.5" y="2101" font-size="30.4" font-weight="normal" fill="#000" text-anchor="middle">0</text>
<line x1="243.4" y1="2061.2" x2="243.4" y2="2073.2" stroke="#000" stroke-width="3.2" stroke-linecap="butt"/>
<text x="244.2" y="2101" font-size="30.4" font-weight="normal" fill="#000" text-anchor="middle">10</text>
<line x1="379" y1="2061.2" x2="379" y2="2073.2" stroke="#000" stroke-width="3.2" stroke-linecap="butt"/>
<text x="379.8" y="2101" font-size="30.4" font-weight="normal" fill="#000" text-anchor="middle">20</text>
<line x1="514.7" y1="2061.2" x2="514.7" y2="2073.2" stroke="#000" stroke-width="3.2" stroke-linecap="butt"/>
<text x="515.5" y="2101" font-size="30.4" font-weight="normal" fill="#000" text-anchor="middle">30</text>
<text x="344.3" y="1597.5" font-size="35.2" font-weight="normal" fill="#000" text-anchor="start" textLength="167" lengthAdjust="spacingAndGlyphs">Acetylation</text>
<text x="240.5" y="1732.3" font-size="32.1" font-weight="bold" fill="#FF5405" text-anchor="start" textLength="63.3" lengthAdjust="spacingAndGlyphs" stroke="#FF5405" stroke-width="0.5" stroke-linejoin="round">CoA</text>
<text x="240.5" y="1880.1" font-size="32.1" font-weight="bold" fill="#0568FF" text-anchor="start" textLength="87.5" lengthAdjust="spacingAndGlyphs" stroke="#0568FF" stroke-width="0.5" stroke-linejoin="round">NADP</text>
<text x="240.5" y="1971" font-size="32.1" font-weight="bold" fill="#8E0067" text-anchor="start" textLength="66.5" lengthAdjust="spacingAndGlyphs" stroke="#8E0067" stroke-width="0.5" stroke-linejoin="round">NAD</text>
<polyline points="589.4,2059.1 596.2,1993.1 603,1964.4 609.7,1948.6 616.5,1974.4 623.3,1942.8 630.1,1941.4 636.9,1954.3 643.7,1962.9 650.5,1957.2 657.2,1960.1 664,1975.8 670.8,1967.2 677.6,1973 684.4,1978.1 691.2,1987.3 698,1983.9 704.7,1988.8 711.5,1993.6 718.3,1980.2 725.1,1981.6 731.9,1978.1 738.7,1983 745.5,1976.4 752.2,1977.3 759,1976.4 765.8,1973.8 772.6,1975.8 779.4,1971.5 786.2,1973.6 793,1970.1 799.7,1975 806.5,1979.3 813.3,1982.2 820.1,1991.6 826.9,1987.3 833.7,1993.1 840.5,1997.4 847.3,1999.7 854,2002.3 860.8,2002.3 867.6,1998.2 874.4,2006 881.2,1995.9 888,1999.4 894.8,2002.3 901.5,2003.1 908.3,1995.9 915.1,1990.2 921.9,1977.3 928.7,1971.5 935.5,1976.4 942.3,1980.2 949,1985.3 955.8,1975.8 962.6,1964.4 969.4,1970.1 976.2,1968.1 983,1955.8 989.8,1952.3" fill="none" stroke="#0568FF" stroke-width="6.8" stroke-linejoin="miter" stroke-linecap="butt" stroke-miterlimit="1.5"/>
<polyline points="589.4,1958.6 596.2,1970.1 603,1992.5 609.7,1985.9 616.5,1980.2 623.3,1990.8 630.1,1972.4 636.9,1985.9 643.7,1993.6 650.5,1998.8 657.2,2008 664,2010.9 670.8,2006 677.6,2011.7 684.4,2015.5 691.2,2012.3 698,2016.6 704.7,2018.3 711.5,2018.3 718.3,2018.3 725.1,2017.5 731.9,2014.6 738.7,2018.9 745.5,2023.2 752.2,2019.5 759,2008 765.8,2011.7 772.6,2014.6 779.4,2013.7 786.2,2017.5 793,2019.5 799.7,2020.3 806.5,2021.2 813.3,2023.2 820.1,2021.2 826.9,2021.2 833.7,2020.3 840.5,2024.1 847.3,2018.9 854,2016.6 860.8,2016 867.6,2009.7 874.4,2008 881.2,2005.1 888,2005.1 894.8,1998.8 901.5,1993.6 908.3,1992.5 915.1,1988.8 921.9,1995.4 928.7,1994.5 935.5,1998.8 942.3,2000.2 949,1999.4 955.8,1996.5 962.6,1995.9 969.4,1995.1 976.2,1996.8 983,1991.6 989.8,1981.6" fill="none" stroke="#8E0067" stroke-width="6.8" stroke-linejoin="miter" stroke-linecap="butt" stroke-miterlimit="1.5"/>
<polyline points="589.4,1772 596.2,1711.8 603,1698.8 609.7,1754.8 616.5,1721.8 623.3,1740.5 630.1,1769.2 636.9,1797.9 643.7,1774.9 650.5,1750.5 657.2,1779.2 664,1754.8 670.8,1747.6 677.6,1762 684.4,1777.2 691.2,1772 698,1759.1 704.7,1779.2 711.5,1762 718.3,1760 725.1,1774.3 731.9,1763.4 738.7,1764 745.5,1776.3 752.2,1790.7 759,1825.1 765.8,1834.6 772.6,1835.2 779.4,1834.3 786.2,1829.5 793,1838.6 799.7,1842.4 806.5,1839.5 813.3,1847.3 820.1,1836.6 826.9,1823.1 833.7,1838.1 840.5,1853.9 847.3,1866.8 854,1874.8 860.8,1876.8 867.6,1874.8 874.4,1872.5 881.2,1835.2 888,1832.9 894.8,1836.6 901.5,1853.9 908.3,1871.1 915.1,1870.2 921.9,1863.9 928.7,1868.2 935.5,1879.7 942.3,1894 949,1894 955.8,1904.1 962.6,1914.1 969.4,1915 976.2,1886.9 983,1894 989.8,1857.6" fill="none" stroke="#FF5405" stroke-width="6.8" stroke-linejoin="miter" stroke-linecap="butt" stroke-miterlimit="1.5"/>
<line x1="589.6" y1="1584" x2="589.6" y2="2062.9" stroke="#000" stroke-width="3.5" stroke-linecap="butt"/>
<line x1="587.9" y1="2061.2" x2="998.4" y2="2061.2" stroke="#000" stroke-width="3.5" stroke-linecap="butt"/>
<line x1="576.4" y1="1585.8" x2="589.6" y2="1585.8" stroke="#000" stroke-width="3.2" stroke-linecap="butt"/>
<text x="573.4" y="1594.8" font-size="30.4" font-weight="normal" fill="#000" text-anchor="end">5</text>
<line x1="576.4" y1="1682.4" x2="589.6" y2="1682.4" stroke="#000" stroke-width="3.2" stroke-linecap="butt"/>
<text x="573.4" y="1691.4" font-size="30.4" font-weight="normal" fill="#000" text-anchor="end">4</text>
<line x1="576.4" y1="1777.3" x2="589.6" y2="1777.3" stroke="#000" stroke-width="3.2" stroke-linecap="butt"/>
<text x="573.4" y="1786.3" font-size="30.4" font-weight="normal" fill="#000" text-anchor="end">3</text>
<line x1="576.4" y1="1872" x2="589.6" y2="1872" stroke="#000" stroke-width="3.2" stroke-linecap="butt"/>
<text x="573.4" y="1881" font-size="30.4" font-weight="normal" fill="#000" text-anchor="end">2</text>
<line x1="576.4" y1="1966.6" x2="589.6" y2="1966.6" stroke="#000" stroke-width="3.2" stroke-linecap="butt"/>
<text x="573.4" y="1975.6" font-size="30.4" font-weight="normal" fill="#000" text-anchor="end">1</text>
<line x1="576.4" y1="2061.2" x2="589.6" y2="2061.2" stroke="#000" stroke-width="3.2" stroke-linecap="butt"/>
<text x="573.4" y="2070.2" font-size="30.4" font-weight="normal" fill="#000" text-anchor="end">0</text>
<line x1="589.6" y1="2061.2" x2="589.6" y2="2073.2" stroke="#000" stroke-width="3.2" stroke-linecap="butt"/>
<text x="590.4" y="2101" font-size="30.4" font-weight="normal" fill="#000" text-anchor="middle">0</text>
<line x1="725.3" y1="2061.2" x2="725.3" y2="2073.2" stroke="#000" stroke-width="3.2" stroke-linecap="butt"/>
<text x="726.1" y="2101" font-size="30.4" font-weight="normal" fill="#000" text-anchor="middle">10</text>
<line x1="860.9" y1="2061.2" x2="860.9" y2="2073.2" stroke="#000" stroke-width="3.2" stroke-linecap="butt"/>
<text x="861.7" y="2101" font-size="30.4" font-weight="normal" fill="#000" text-anchor="middle">20</text>
<line x1="996.6" y1="2061.2" x2="996.6" y2="2073.2" stroke="#000" stroke-width="3.2" stroke-linecap="butt"/>
<text x="997.4" y="2101" font-size="30.4" font-weight="normal" fill="#000" text-anchor="middle">30</text>
<text x="799.7" y="1597.5" font-size="35.2" font-weight="normal" fill="#000" text-anchor="start" textLength="191.9" lengthAdjust="spacingAndGlyphs">Glutarylation</text>
<text x="720.3" y="1749.6" font-size="32.1" font-weight="bold" fill="#FF5405" text-anchor="start" textLength="63.3" lengthAdjust="spacingAndGlyphs" stroke="#FF5405" stroke-width="0.5" stroke-linejoin="round">CoA</text>
<text x="720.3" y="1960.5" font-size="32.1" font-weight="bold" fill="#0568FF" text-anchor="start" textLength="87.5" lengthAdjust="spacingAndGlyphs" stroke="#0568FF" stroke-width="0.5" stroke-linejoin="round">NADP</text>
<text x="720.3" y="2052.3" font-size="32.1" font-weight="bold" fill="#8E0067" text-anchor="start" textLength="66.5" lengthAdjust="spacingAndGlyphs" stroke="#8E0067" stroke-width="0.5" stroke-linejoin="round">NAD</text>
<polyline points="1070.8,1899.9 1077.6,1881.2 1084.4,1866.3 1091.2,1922.8 1097.9,1927.1 1104.7,1930 1111.5,1958.7 1118.3,1967.3 1125.1,1955.8 1131.9,1948.7 1138.7,1951.5 1145.4,1954.4 1152.2,1963 1159,1970.2 1165.8,1977.4 1172.6,1986 1179.4,1975.9 1186.2,1978.8 1192.9,1986 1199.7,1987.4 1206.5,1961.6 1213.3,1958.7 1220.1,1950.1 1226.9,1954.4 1233.7,1958.7 1240.4,1953 1247.2,1950.1 1254,1952.4 1260.8,1930 1267.6,1941.5 1274.4,1942.1 1281.2,1950.1 1287.9,1954.4 1294.7,1953 1301.5,1964.5 1308.3,1961.6 1315.1,1963.6 1321.9,1960.2 1328.7,1965.3 1335.4,1968.8 1342.2,1971.6 1349,1967.9 1355.8,1968.8 1362.6,1962.2 1369.4,1958.7 1376.2,1961.6 1382.9,1961 1389.7,1970.8 1396.5,1968.8 1403.3,1963 1410.1,1962.2 1416.9,1968.8 1423.7,1967.3 1430.4,1963.9 1437.2,1967.3 1444,1960.2 1450.8,1967.9 1457.6,1965.9 1464.4,1955.8 1471.2,1955.8" fill="none" stroke="#0568FF" stroke-width="6.8" stroke-linejoin="miter" stroke-linecap="butt" stroke-miterlimit="1.5"/>
<polyline points="1070.8,1978.8 1077.6,1977.4 1084.4,1961.6 1091.2,1932.9 1097.9,1941.5 1104.7,1960.2 1111.5,1949.5 1118.3,1953 1125.1,1953.6 1131.9,1953 1138.7,1957.3 1145.4,1975.9 1152.2,1980.2 1159,1970.8 1165.8,1980.2 1172.6,1986 1179.4,1986 1186.2,1990.3 1192.9,1988 1199.7,1992.6 1206.5,1986 1213.3,1990.9 1220.1,1996.6 1226.9,2002.4 1233.7,2001.2 1240.4,1993.7 1247.2,1996.6 1254,1993.2 1260.8,1987.4 1267.6,1988 1274.4,1990.3 1281.2,1992.6 1287.9,1994.6 1294.7,1996.6 1301.5,1990.3 1308.3,1985.1 1315.1,1984.6 1321.9,1990.3 1328.7,1972.5 1335.4,1973.6 1342.2,1976.5 1349,1972.5 1355.8,1971.6 1362.6,1968.8 1369.4,1972.5 1376.2,1958.1 1382.9,1955.8 1389.7,1957.3 1396.5,1957.3 1403.3,1961.6 1410.1,1970.2 1416.9,1976.5 1423.7,1973.6 1430.4,1973.6 1437.2,1973.6 1444,1980.2 1450.8,1986 1457.6,1984 1464.4,1981.1 1471.2,1978.2" fill="none" stroke="#8E0067" stroke-width="6.8" stroke-linejoin="miter" stroke-linecap="butt" stroke-miterlimit="1.5"/>
<polyline points="1070.8,1645.8 1077.6,1667.4 1084.4,1687.5 1091.2,1716.2 1097.9,1714.2 1104.7,1730.5 1111.5,1737.7 1118.3,1752 1125.1,1740.6 1131.9,1729.1 1138.7,1760.7 1145.4,1759.8 1152.2,1767.8 1159,1772.1 1165.8,1785.9 1172.6,1787.9 1179.4,1778.7 1186.2,1782.2 1192.9,1781.3 1199.7,1798 1206.5,1806 1213.3,1792.2 1220.1,1798.5 1226.9,1796.5 1233.7,1805.1 1240.4,1831 1247.2,1829 1254,1824.4 1260.8,1835.9 1267.6,1835.3 1274.4,1846.8 1281.2,1842.5 1287.9,1843.3 1294.7,1856.2 1301.5,1858.3 1308.3,1860.5 1315.1,1857.7 1321.9,1869.7 1328.7,1876.9 1335.4,1878.3 1342.2,1874 1349,1872 1355.8,1874 1362.6,1862 1369.4,1875.5 1376.2,1876 1382.9,1882.7 1389.7,1895.6 1396.5,1897.9 1403.3,1891.3 1410.1,1904.2 1416.9,1911.4 1423.7,1904.2 1430.4,1899.9 1437.2,1897 1444,1872.6 1450.8,1874 1457.6,1873.2 1464.4,1904.2 1471.2,1897.9" fill="none" stroke="#FF5405" stroke-width="6.8" stroke-linejoin="miter" stroke-linecap="butt" stroke-miterlimit="1.5"/>
<line x1="1071.3" y1="1584" x2="1071.3" y2="2062.9" stroke="#000" stroke-width="3.5" stroke-linecap="butt"/>
<line x1="1069.5" y1="2061.2" x2="1480" y2="2061.2" stroke="#000" stroke-width="3.5" stroke-linecap="butt"/>
<line x1="1058.1" y1="1585.8" x2="1071.3" y2="1585.8" stroke="#000" stroke-width="3.2" stroke-linecap="butt"/>
<text x="1055.1" y="1594.8" font-size="30.4" font-weight="normal" fill="#000" text-anchor="end">4</text>
<line x1="1058.1" y1="1706.2" x2="1071.3" y2="1706.2" stroke="#000" stroke-width="3.2" stroke-linecap="butt"/>
<text x="1055.1" y="1715.2" font-size="30.4" font-weight="normal" fill="#000" text-anchor="end">3</text>
<line x1="1058.1" y1="1824.5" x2="1071.3" y2="1824.5" stroke="#000" stroke-width="3.2" stroke-linecap="butt"/>
<text x="1055.1" y="1833.5" font-size="30.4" font-weight="normal" fill="#000" text-anchor="end">2</text>
<line x1="1058.1" y1="1943.2" x2="1071.3" y2="1943.2" stroke="#000" stroke-width="3.2" stroke-linecap="butt"/>
<text x="1055.1" y="1952.2" font-size="30.4" font-weight="normal" fill="#000" text-anchor="end">1</text>
<line x1="1058.1" y1="2061.2" x2="1071.3" y2="2061.2" stroke="#000" stroke-width="3.2" stroke-linecap="butt"/>
<text x="1055.1" y="2070.2" font-size="30.4" font-weight="normal" fill="#000" text-anchor="end">0</text>
<line x1="1071.3" y1="2061.2" x2="1071.3" y2="2073.2" stroke="#000" stroke-width="3.2" stroke-linecap="butt"/>
<text x="1072.1" y="2101" font-size="30.4" font-weight="normal" fill="#000" text-anchor="middle">0</text>
<line x1="1207" y1="2061.2" x2="1207" y2="2073.2" stroke="#000" stroke-width="3.2" stroke-linecap="butt"/>
<text x="1207.8" y="2101" font-size="30.4" font-weight="normal" fill="#000" text-anchor="middle">10</text>
<line x1="1342.6" y1="2061.2" x2="1342.6" y2="2073.2" stroke="#000" stroke-width="3.2" stroke-linecap="butt"/>
<text x="1343.4" y="2101" font-size="30.4" font-weight="normal" fill="#000" text-anchor="middle">20</text>
<line x1="1478.3" y1="2061.2" x2="1478.3" y2="2073.2" stroke="#000" stroke-width="3.2" stroke-linecap="butt"/>
<text x="1479.1" y="2101" font-size="30.4" font-weight="normal" fill="#000" text-anchor="middle">30</text>
<text x="1271" y="1597.5" font-size="35.2" font-weight="normal" fill="#000" text-anchor="start" textLength="201" lengthAdjust="spacingAndGlyphs">Succinylation</text>
<text x="1205" y="1776.8" font-size="32.1" font-weight="bold" fill="#FF5405" text-anchor="start" textLength="63.3" lengthAdjust="spacingAndGlyphs" stroke="#FF5405" stroke-width="0.5" stroke-linejoin="round">CoA</text>
<text x="1205" y="1921.7" font-size="32.1" font-weight="bold" fill="#0568FF" text-anchor="start" textLength="87.5" lengthAdjust="spacingAndGlyphs" stroke="#0568FF" stroke-width="0.5" stroke-linejoin="round">NADP</text>
<text x="1205" y="2032" font-size="32.1" font-weight="bold" fill="#8E0067" text-anchor="start" textLength="66.5" lengthAdjust="spacingAndGlyphs" stroke="#8E0067" stroke-width="0.5" stroke-linejoin="round">NAD</text>
<text transform="translate(31.8,2026.5) rotate(-90)" font-size="33.6" fill="#000" textLength="413" lengthAdjust="spacingAndGlyphs"><tspan font-weight="bold" font-style="italic">P</tspan>(Acylation)<tspan font-weight="bold">/</tspan><tspan font-weight="bold" font-style="italic">P</tspan>(Non-acylation)</text>
<text x="98.8" y="2141.6" font-size="34.2" font-weight="bold" fill="#000" text-anchor="start" textLength="517" lengthAdjust="spacingAndGlyphs" stroke="#000" stroke-width="0.5" stroke-linejoin="round">CoA Sulfur-Lysine Amine Distance</text>
<text x="631.3" y="2141.6" font-size="34.2" font-weight="normal" fill="#000" text-anchor="start" textLength="42.5" lengthAdjust="spacingAndGlyphs">(&#197;)</text>
<rect x="700" y="2127.4" width="782" height="7.2" fill="url(#gBar)"/>
<polygon points="1478.5,2121.5 1493.5,2131 1478.5,2140.5" fill="#231f20"/>
</svg>
</body></html>
